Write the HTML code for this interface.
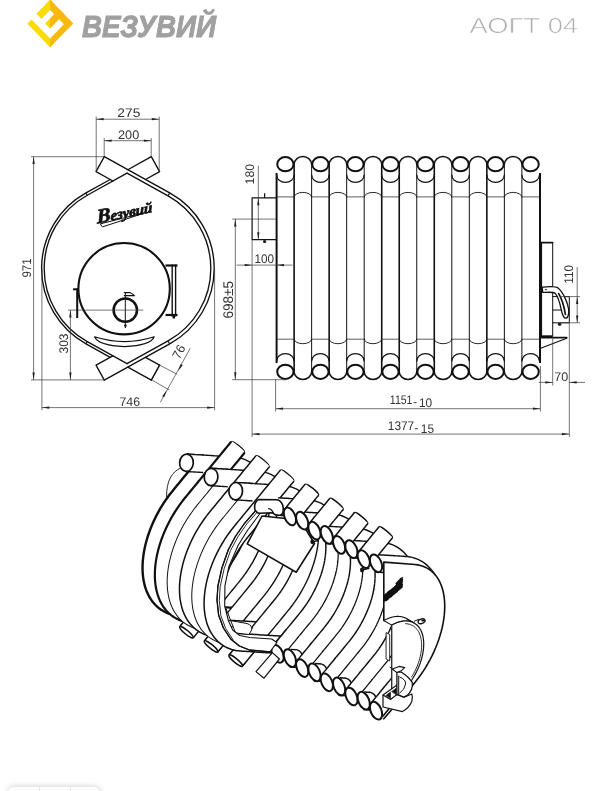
<!DOCTYPE html>
<html lang="ru">
<head>
<meta charset="utf-8">
<title>Везувий АОГТ 04</title>
<style>
html,body{margin:0;padding:0;background:#fff;}
body{width:607px;height:791px;overflow:hidden;position:relative;font-family:"Liberation Sans",sans-serif;}
svg{position:absolute;left:0;top:0;display:block;}
svg text{text-rendering:geometricPrecision;}
.gray{opacity:.999;}
.toolbar{position:absolute;left:8px;top:787px;width:92px;height:20px;border-radius:6px 6px 0 0;background:#fff;box-shadow:0 0 6px rgba(0,0,0,.22);}
.toolbar i{position:absolute;top:0;width:1px;height:20px;background:#e4e4e4;}
</style>
</head>
<body>
<svg width="607" height="791" viewBox="0 0 607 791">
<g class="gray">
<defs><linearGradient id="lg" gradientUnits="userSpaceOnUse" x1="0" y1="0" x2="100" y2="0"><stop offset="0.501" stop-color="#fbdb06"/><stop offset="0.501" stop-color="#f8b90c"/></linearGradient></defs>
<g fill="url(#lg)">
<path d="M50.10,-0.34 L73.15,23.40 L68.13,28.57 L45.08,4.83Z"/>
<path d="M50.10,-0.34 L55.12,4.83 L41.47,18.88 L36.45,13.71Z"/>
<path d="M59.12,8.94 L64.14,14.11 L50.06,28.61 L45.04,23.44Z"/>
<path d="M68.98,19.10 L73.15,23.40 L50.10,47.14 L45.93,42.85Z"/>
<path d="M27.47,23.84 L50.10,47.14 L54.27,42.85 L31.64,19.54Z"/>
</g>
<text x="82" y="36.5" font-family="Liberation Sans, sans-serif" font-weight="bold" font-style="italic" font-size="30.6" fill="#a0a0a0" stroke="#a0a0a0" stroke-width="0.9" textLength="134" lengthAdjust="spacingAndGlyphs">ВЕЗУВИЙ</text>
<text x="469.6" y="33.4" font-family="Liberation Sans, sans-serif" font-size="21.8" fill="#b0b0b0" stroke="#fff" stroke-width="0.55" textLength="108.5" lengthAdjust="spacingAndGlyphs">АОГТ 04</text>
<path d="M104.3,156.7 L169.69,192.89 A86.3,86.3 0 0 1 169.69,343.91 L104.3,380.1" fill="none" stroke="#111" stroke-width="1.35" stroke-linejoin="round" stroke-linecap="round" />
<path d="M127.01,173.16 L168.05,195.87 A82.9,82.9 0 0 1 168.05,340.93 L127.01,363.64" fill="none" stroke="#111" stroke-width="1.35" stroke-linejoin="round" stroke-linecap="round" />
<path d="M127.01,173.16 L87.27,195.22 A83.7,83.7 0 0 0 87.27,341.58 L127.01,363.64" fill="none" stroke="#111" stroke-width="1.35" stroke-linejoin="round" stroke-linecap="round" />
<path d="M104.3,156.7 L96.02,171.66 L112.89,181" fill="none" stroke="#111" stroke-width="1.35" stroke-linejoin="round" stroke-linecap="round" />
<path d="M104.3,380.1 L96.02,365.14 L112.89,355.8" fill="none" stroke="#111" stroke-width="1.35" stroke-linejoin="round" stroke-linecap="round" />
<path d="M110.21,179.51 L86.01,192.95 A86.3,86.3 0 0 0 86.01,343.85 L110.21,357.29" fill="none" stroke="#111" stroke-width="1.35" stroke-linejoin="round" stroke-linecap="round" />
<path d="M127.84,169.73 L151.3,156.7 L159.6,171.65 L145.48,179.49" fill="none" stroke="#111" stroke-width="1.35" stroke-linejoin="round" stroke-linecap="round" />
<path d="M127.84,367.07 L151.3,380.1" fill="none" stroke="#111" stroke-width="1.35" stroke-linejoin="round" stroke-linecap="round" />
<path d="M151.3,380.1 L159.6,365.15" fill="none" stroke="#111" stroke-width="1.5" stroke-linejoin="round" stroke-linecap="round" />
<path d="M159.6,365.15 L145.48,357.31" fill="none" stroke="#111" stroke-width="1.35" stroke-linejoin="round" stroke-linecap="round" />
<line x1="169.69" y1="192.89" x2="168.05" y2="195.87" stroke="#111" stroke-width="1.1" stroke-linecap="butt"/>
<line x1="169.69" y1="343.91" x2="168.05" y2="340.93" stroke="#111" stroke-width="1.1" stroke-linecap="butt"/>
<line x1="86.01" y1="192.95" x2="87.27" y2="195.22" stroke="#111" stroke-width="1.1" stroke-linecap="butt"/>
<line x1="86.01" y1="343.85" x2="87.27" y2="341.58" stroke="#111" stroke-width="1.1" stroke-linecap="butt"/>
<circle cx="124.1" cy="288.7" r="45.7" fill="none" stroke="#111" stroke-width="2.1"/>
<circle cx="125.3" cy="310.1" r="11.7" fill="none" stroke="#111" stroke-width="2.5"/>
<line x1="125.3" y1="292.5" x2="125.3" y2="328" stroke="#111" stroke-width="1" stroke-linecap="butt"/>
<path d="M125.3,327 l-1.2,-2 h2.4z" fill="#111" stroke="#111" stroke-width="0.5" stroke-linejoin="round" stroke-linecap="round" />
<line x1="68" y1="310.1" x2="143.2" y2="310.1" stroke="#3a3a3a" stroke-width="0.7" stroke-linecap="butt"/>
<path d="M124.3,292.6 H130.2 L134.6,295.6 H124.3" fill="none" stroke="#111" stroke-width="1.1" stroke-linejoin="round" stroke-linecap="round" />
<line x1="77.2" y1="288.4" x2="77.2" y2="318" stroke="#111" stroke-width="2" stroke-linecap="butt"/>
<line x1="73" y1="289.3" x2="78" y2="289.3" stroke="#111" stroke-width="2" stroke-linecap="butt"/>
<line x1="172.2" y1="264.5" x2="172.2" y2="316.5" stroke="#111" stroke-width="1.4" stroke-linecap="butt"/>
<line x1="175.6" y1="264.5" x2="175.6" y2="316.5" stroke="#111" stroke-width="1.4" stroke-linecap="butt"/>
<line x1="165.5" y1="265.5" x2="177.5" y2="265.5" stroke="#111" stroke-width="2.2" stroke-linecap="butt"/>
<line x1="165.5" y1="315" x2="177.5" y2="315" stroke="#111" stroke-width="2.2" stroke-linecap="butt"/>
<line x1="173.8" y1="315" x2="173.8" y2="318.5" stroke="#111" stroke-width="2.4" stroke-linecap="butt"/>
<path d="M94.6,336.8 Q124.5,346.5 154.2,336.8 Q151,345.5 124.5,346.6 Q98,345.5 94.6,336.8Z" fill="none" stroke="#111" stroke-width="1.2" stroke-linejoin="round" stroke-linecap="round" />
<line x1="96.2" y1="116.5" x2="96.2" y2="171.6" stroke="#3a3a3a" stroke-width="0.7" stroke-linecap="butt"/>
<line x1="159.2" y1="116.5" x2="159.2" y2="171.6" stroke="#3a3a3a" stroke-width="0.7" stroke-linecap="butt"/>
<line x1="96.2" y1="119.2" x2="159.2" y2="119.2" stroke="#3a3a3a" stroke-width="0.7" stroke-linecap="butt"/>
<polygon points="96.2,119.2 103.6,118.05 103.6,120.35" fill="#222"/>
<polygon points="159.2,119.2 151.8,120.35 151.8,118.05" fill="#222"/>
<text x="128.8" y="117.2" font-family="Liberation Sans, sans-serif" font-size="12.5" fill="#333" text-anchor="middle" textLength="23" lengthAdjust="spacingAndGlyphs" >275</text>
<line x1="104.2" y1="138" x2="104.2" y2="156.7" stroke="#3a3a3a" stroke-width="0.7" stroke-linecap="butt"/>
<line x1="151.2" y1="138" x2="151.2" y2="156.7" stroke="#3a3a3a" stroke-width="0.7" stroke-linecap="butt"/>
<line x1="104.2" y1="140.7" x2="151.2" y2="140.7" stroke="#3a3a3a" stroke-width="0.7" stroke-linecap="butt"/>
<polygon points="104.2,140.7 111.6,139.55 111.6,141.85" fill="#222"/>
<polygon points="151.2,140.7 143.8,141.85 143.8,139.55" fill="#222"/>
<text x="128.6" y="139" font-family="Liberation Sans, sans-serif" font-size="12.5" fill="#333" text-anchor="middle" textLength="21.2" lengthAdjust="spacingAndGlyphs" >200</text>
<line x1="31" y1="156.7" x2="104.3" y2="156.7" stroke="#3a3a3a" stroke-width="0.7" stroke-linecap="butt"/>
<line x1="31" y1="379.9" x2="105" y2="379.9" stroke="#3a3a3a" stroke-width="0.7" stroke-linecap="butt"/>
<line x1="33.6" y1="156.7" x2="33.6" y2="379.9" stroke="#3a3a3a" stroke-width="0.7" stroke-linecap="butt"/>
<polygon points="33.6,156.7 34.75,164.1 32.45,164.1" fill="#222"/>
<polygon points="33.6,379.9 32.45,372.5 34.75,372.5" fill="#222"/>
<text x="31" y="268" font-family="Liberation Sans, sans-serif" font-size="12.5" fill="#333" text-anchor="middle" transform="rotate(-90 31 268)" textLength="19.2" lengthAdjust="spacingAndGlyphs" >971</text>
<line x1="70.4" y1="310.1" x2="70.4" y2="379.9" stroke="#3a3a3a" stroke-width="0.7" stroke-linecap="butt"/>
<polygon points="70.4,310.1 71.55,317.5 69.25,317.5" fill="#222"/>
<polygon points="70.4,379.9 69.25,372.5 71.55,372.5" fill="#222"/>
<text x="68" y="343.5" font-family="Liberation Sans, sans-serif" font-size="12.5" fill="#333" text-anchor="middle" transform="rotate(-90 68 343.5)" textLength="20" lengthAdjust="spacingAndGlyphs" >303</text>
<line x1="41.9" y1="268" x2="41.9" y2="410.2" stroke="#3a3a3a" stroke-width="0.7" stroke-linecap="butt"/>
<line x1="214.6" y1="268" x2="214.6" y2="410.2" stroke="#3a3a3a" stroke-width="0.7" stroke-linecap="butt"/>
<line x1="41.9" y1="407.6" x2="214.6" y2="407.6" stroke="#3a3a3a" stroke-width="0.7" stroke-linecap="butt"/>
<polygon points="41.9,407.6 49.3,406.45 49.3,408.75" fill="#222"/>
<polygon points="214.6,407.6 207.2,408.75 207.2,406.45" fill="#222"/>
<text x="129.8" y="405.7" font-family="Liberation Sans, sans-serif" font-size="12.5" fill="#333" text-anchor="middle" textLength="20.6" lengthAdjust="spacingAndGlyphs" >746</text>
<line x1="159.2" y1="364.9" x2="177.2" y2="374.3" stroke="#3a3a3a" stroke-width="0.7" stroke-linecap="butt"/>
<line x1="151.8" y1="379.9" x2="169.2" y2="390" stroke="#3a3a3a" stroke-width="0.7" stroke-linecap="butt"/>
<line x1="190.3" y1="348.1" x2="160.3" y2="402.3" stroke="#3a3a3a" stroke-width="0.7" stroke-linecap="butt"/>
<polygon points="178.1,371.1 180.68,364.07 182.69,365.19" fill="#222"/>
<polygon points="166.8,390.3 164.22,397.33 162.21,396.21" fill="#222"/>
<text x="182.6" y="353.8" font-family="Liberation Sans, sans-serif" font-size="12.5" fill="#333" text-anchor="middle" transform="rotate(-61 182.6 353.8)" >76</text>
<text x="0" y="0" transform="translate(97.2 223.4) rotate(-11.5) skewX(-8)" font-family="Liberation Serif, serif" font-weight="bold" font-style="italic" font-size="14.5" fill="#111" stroke="#111" stroke-width="0.7" textLength="56.5" lengthAdjust="spacingAndGlyphs"><tspan font-size="20">В</tspan>езувий</text>
<path d="M100.6,223.8 Q122,218.4 146,212.4 Q124,220 102.8,226.8 Z" fill="none" stroke="#111" stroke-width="1" stroke-linejoin="round" stroke-linecap="round" />
<line x1="276.6" y1="173" x2="276.6" y2="363" stroke="#111" stroke-width="2" stroke-linecap="butt"/>
<line x1="294.12" y1="164.5" x2="294.12" y2="371.5" stroke="#111" stroke-width="1.6" stroke-linecap="butt"/>
<line x1="311.64" y1="164.5" x2="311.64" y2="371.5" stroke="#111" stroke-width="1" stroke-linecap="butt"/>
<line x1="329.16" y1="164.5" x2="329.16" y2="371.5" stroke="#111" stroke-width="1.6" stroke-linecap="butt"/>
<line x1="346.68" y1="164.5" x2="346.68" y2="371.5" stroke="#111" stroke-width="1" stroke-linecap="butt"/>
<line x1="364.2" y1="164.5" x2="364.2" y2="371.5" stroke="#111" stroke-width="1" stroke-linecap="butt"/>
<line x1="381.72" y1="164.5" x2="381.72" y2="371.5" stroke="#111" stroke-width="1.6" stroke-linecap="butt"/>
<line x1="399.24" y1="164.5" x2="399.24" y2="371.5" stroke="#111" stroke-width="1.6" stroke-linecap="butt"/>
<line x1="416.76" y1="164.5" x2="416.76" y2="371.5" stroke="#111" stroke-width="1" stroke-linecap="butt"/>
<line x1="434.28" y1="164.5" x2="434.28" y2="371.5" stroke="#111" stroke-width="1.6" stroke-linecap="butt"/>
<line x1="451.8" y1="164.5" x2="451.8" y2="371.5" stroke="#111" stroke-width="1" stroke-linecap="butt"/>
<line x1="469.32" y1="164.5" x2="469.32" y2="371.5" stroke="#111" stroke-width="1" stroke-linecap="butt"/>
<line x1="486.84" y1="164.5" x2="486.84" y2="371.5" stroke="#111" stroke-width="1.6" stroke-linecap="butt"/>
<line x1="504.36" y1="164.5" x2="504.36" y2="371.5" stroke="#111" stroke-width="1" stroke-linecap="butt"/>
<line x1="521.88" y1="164.5" x2="521.88" y2="371.5" stroke="#111" stroke-width="1" stroke-linecap="butt"/>
<line x1="540" y1="173" x2="540" y2="363" stroke="#111" stroke-width="2" stroke-linecap="butt"/>
<ellipse cx="285.36" cy="164.2" rx="8.16" ry="7.1" fill="#fff" stroke="#111" stroke-width="2.0"/>
<ellipse cx="285.36" cy="371.8" rx="8.16" ry="7.1" fill="#fff" stroke="#111" stroke-width="2.0"/>
<path d="M276.6,175 A8.76,7.4 0 0 0 294.12,175" fill="none" stroke="#111" stroke-width="1.2" stroke-linejoin="round" stroke-linecap="round" />
<path d="M276.6,361 A8.76,7.4 0 0 1 294.12,361" fill="none" stroke="#111" stroke-width="1.2" stroke-linejoin="round" stroke-linecap="round" />
<line x1="276.6" y1="196.9" x2="294.12" y2="196.9" stroke="#333" stroke-width="0.8" stroke-linecap="butt"/>
<line x1="276.6" y1="339.2" x2="294.12" y2="339.2" stroke="#333" stroke-width="0.8" stroke-linecap="butt"/>
<path d="M294.12,164.5 A8.76,8 0 0 1 311.64,164.5" fill="none" stroke="#111" stroke-width="1.45" stroke-linejoin="round" stroke-linecap="round" />
<path d="M294.12,371.5 A8.76,8 0 0 0 311.64,371.5" fill="none" stroke="#111" stroke-width="1.45" stroke-linejoin="round" stroke-linecap="round" />
<path d="M294.12,196.9 A8.76,4.5 0 0 1 311.64,196.9" fill="none" stroke="#111" stroke-width="0.9" stroke-linejoin="round" stroke-linecap="round" />
<path d="M294.12,339.2 A8.76,4.5 0 0 0 311.64,339.2" fill="none" stroke="#111" stroke-width="0.9" stroke-linejoin="round" stroke-linecap="round" />
<ellipse cx="320.4" cy="164.2" rx="8.16" ry="7.1" fill="#fff" stroke="#111" stroke-width="2.0"/>
<ellipse cx="320.4" cy="371.8" rx="8.16" ry="7.1" fill="#fff" stroke="#111" stroke-width="2.0"/>
<path d="M311.64,175 A8.76,7.4 0 0 0 329.16,175" fill="none" stroke="#111" stroke-width="1.2" stroke-linejoin="round" stroke-linecap="round" />
<path d="M311.64,361 A8.76,7.4 0 0 1 329.16,361" fill="none" stroke="#111" stroke-width="1.2" stroke-linejoin="round" stroke-linecap="round" />
<line x1="311.64" y1="196.9" x2="329.16" y2="196.9" stroke="#333" stroke-width="0.8" stroke-linecap="butt"/>
<line x1="311.64" y1="339.2" x2="329.16" y2="339.2" stroke="#333" stroke-width="0.8" stroke-linecap="butt"/>
<path d="M329.16,164.5 A8.76,8 0 0 1 346.68,164.5" fill="none" stroke="#111" stroke-width="1.45" stroke-linejoin="round" stroke-linecap="round" />
<path d="M329.16,371.5 A8.76,8 0 0 0 346.68,371.5" fill="none" stroke="#111" stroke-width="1.45" stroke-linejoin="round" stroke-linecap="round" />
<path d="M329.16,196.9 A8.76,4.5 0 0 1 346.68,196.9" fill="none" stroke="#111" stroke-width="0.9" stroke-linejoin="round" stroke-linecap="round" />
<path d="M329.16,339.2 A8.76,4.5 0 0 0 346.68,339.2" fill="none" stroke="#111" stroke-width="0.9" stroke-linejoin="round" stroke-linecap="round" />
<ellipse cx="355.44" cy="164.2" rx="8.16" ry="7.1" fill="#fff" stroke="#111" stroke-width="2.0"/>
<ellipse cx="355.44" cy="371.8" rx="8.16" ry="7.1" fill="#fff" stroke="#111" stroke-width="2.0"/>
<path d="M346.68,175 A8.76,7.4 0 0 0 364.2,175" fill="none" stroke="#111" stroke-width="1.2" stroke-linejoin="round" stroke-linecap="round" />
<path d="M346.68,361 A8.76,7.4 0 0 1 364.2,361" fill="none" stroke="#111" stroke-width="1.2" stroke-linejoin="round" stroke-linecap="round" />
<line x1="346.68" y1="196.9" x2="364.2" y2="196.9" stroke="#333" stroke-width="0.8" stroke-linecap="butt"/>
<line x1="346.68" y1="339.2" x2="364.2" y2="339.2" stroke="#333" stroke-width="0.8" stroke-linecap="butt"/>
<path d="M364.2,164.5 A8.76,8 0 0 1 381.72,164.5" fill="none" stroke="#111" stroke-width="1.45" stroke-linejoin="round" stroke-linecap="round" />
<path d="M364.2,371.5 A8.76,8 0 0 0 381.72,371.5" fill="none" stroke="#111" stroke-width="1.45" stroke-linejoin="round" stroke-linecap="round" />
<path d="M364.2,196.9 A8.76,4.5 0 0 1 381.72,196.9" fill="none" stroke="#111" stroke-width="0.9" stroke-linejoin="round" stroke-linecap="round" />
<path d="M364.2,339.2 A8.76,4.5 0 0 0 381.72,339.2" fill="none" stroke="#111" stroke-width="0.9" stroke-linejoin="round" stroke-linecap="round" />
<ellipse cx="390.48" cy="164.2" rx="8.16" ry="7.1" fill="#fff" stroke="#111" stroke-width="2.0"/>
<ellipse cx="390.48" cy="371.8" rx="8.16" ry="7.1" fill="#fff" stroke="#111" stroke-width="2.0"/>
<path d="M381.72,175 A8.76,7.4 0 0 0 399.24,175" fill="none" stroke="#111" stroke-width="1.2" stroke-linejoin="round" stroke-linecap="round" />
<path d="M381.72,361 A8.76,7.4 0 0 1 399.24,361" fill="none" stroke="#111" stroke-width="1.2" stroke-linejoin="round" stroke-linecap="round" />
<line x1="381.72" y1="196.9" x2="399.24" y2="196.9" stroke="#333" stroke-width="0.8" stroke-linecap="butt"/>
<line x1="381.72" y1="339.2" x2="399.24" y2="339.2" stroke="#333" stroke-width="0.8" stroke-linecap="butt"/>
<path d="M399.24,164.5 A8.76,8 0 0 1 416.76,164.5" fill="none" stroke="#111" stroke-width="1.45" stroke-linejoin="round" stroke-linecap="round" />
<path d="M399.24,371.5 A8.76,8 0 0 0 416.76,371.5" fill="none" stroke="#111" stroke-width="1.45" stroke-linejoin="round" stroke-linecap="round" />
<path d="M399.24,196.9 A8.76,4.5 0 0 1 416.76,196.9" fill="none" stroke="#111" stroke-width="0.9" stroke-linejoin="round" stroke-linecap="round" />
<path d="M399.24,339.2 A8.76,4.5 0 0 0 416.76,339.2" fill="none" stroke="#111" stroke-width="0.9" stroke-linejoin="round" stroke-linecap="round" />
<ellipse cx="425.52" cy="164.2" rx="8.16" ry="7.1" fill="#fff" stroke="#111" stroke-width="2.0"/>
<ellipse cx="425.52" cy="371.8" rx="8.16" ry="7.1" fill="#fff" stroke="#111" stroke-width="2.0"/>
<path d="M416.76,175 A8.76,7.4 0 0 0 434.28,175" fill="none" stroke="#111" stroke-width="1.2" stroke-linejoin="round" stroke-linecap="round" />
<path d="M416.76,361 A8.76,7.4 0 0 1 434.28,361" fill="none" stroke="#111" stroke-width="1.2" stroke-linejoin="round" stroke-linecap="round" />
<line x1="416.76" y1="196.9" x2="434.28" y2="196.9" stroke="#333" stroke-width="0.8" stroke-linecap="butt"/>
<line x1="416.76" y1="339.2" x2="434.28" y2="339.2" stroke="#333" stroke-width="0.8" stroke-linecap="butt"/>
<path d="M434.28,164.5 A8.76,8 0 0 1 451.8,164.5" fill="none" stroke="#111" stroke-width="1.45" stroke-linejoin="round" stroke-linecap="round" />
<path d="M434.28,371.5 A8.76,8 0 0 0 451.8,371.5" fill="none" stroke="#111" stroke-width="1.45" stroke-linejoin="round" stroke-linecap="round" />
<path d="M434.28,196.9 A8.76,4.5 0 0 1 451.8,196.9" fill="none" stroke="#111" stroke-width="0.9" stroke-linejoin="round" stroke-linecap="round" />
<path d="M434.28,339.2 A8.76,4.5 0 0 0 451.8,339.2" fill="none" stroke="#111" stroke-width="0.9" stroke-linejoin="round" stroke-linecap="round" />
<ellipse cx="460.56" cy="164.2" rx="8.16" ry="7.1" fill="#fff" stroke="#111" stroke-width="2.0"/>
<ellipse cx="460.56" cy="371.8" rx="8.16" ry="7.1" fill="#fff" stroke="#111" stroke-width="2.0"/>
<path d="M451.8,175 A8.76,7.4 0 0 0 469.32,175" fill="none" stroke="#111" stroke-width="1.2" stroke-linejoin="round" stroke-linecap="round" />
<path d="M451.8,361 A8.76,7.4 0 0 1 469.32,361" fill="none" stroke="#111" stroke-width="1.2" stroke-linejoin="round" stroke-linecap="round" />
<line x1="451.8" y1="196.9" x2="469.32" y2="196.9" stroke="#333" stroke-width="0.8" stroke-linecap="butt"/>
<line x1="451.8" y1="339.2" x2="469.32" y2="339.2" stroke="#333" stroke-width="0.8" stroke-linecap="butt"/>
<path d="M469.32,164.5 A8.76,8 0 0 1 486.84,164.5" fill="none" stroke="#111" stroke-width="1.45" stroke-linejoin="round" stroke-linecap="round" />
<path d="M469.32,371.5 A8.76,8 0 0 0 486.84,371.5" fill="none" stroke="#111" stroke-width="1.45" stroke-linejoin="round" stroke-linecap="round" />
<path d="M469.32,196.9 A8.76,4.5 0 0 1 486.84,196.9" fill="none" stroke="#111" stroke-width="0.9" stroke-linejoin="round" stroke-linecap="round" />
<path d="M469.32,339.2 A8.76,4.5 0 0 0 486.84,339.2" fill="none" stroke="#111" stroke-width="0.9" stroke-linejoin="round" stroke-linecap="round" />
<ellipse cx="495.6" cy="164.2" rx="8.16" ry="7.1" fill="#fff" stroke="#111" stroke-width="2.0"/>
<ellipse cx="495.6" cy="371.8" rx="8.16" ry="7.1" fill="#fff" stroke="#111" stroke-width="2.0"/>
<path d="M486.84,175 A8.76,7.4 0 0 0 504.36,175" fill="none" stroke="#111" stroke-width="1.2" stroke-linejoin="round" stroke-linecap="round" />
<path d="M486.84,361 A8.76,7.4 0 0 1 504.36,361" fill="none" stroke="#111" stroke-width="1.2" stroke-linejoin="round" stroke-linecap="round" />
<line x1="486.84" y1="196.9" x2="504.36" y2="196.9" stroke="#333" stroke-width="0.8" stroke-linecap="butt"/>
<line x1="486.84" y1="339.2" x2="504.36" y2="339.2" stroke="#333" stroke-width="0.8" stroke-linecap="butt"/>
<path d="M504.36,164.5 A8.76,8 0 0 1 521.88,164.5" fill="none" stroke="#111" stroke-width="1.45" stroke-linejoin="round" stroke-linecap="round" />
<path d="M504.36,371.5 A8.76,8 0 0 0 521.88,371.5" fill="none" stroke="#111" stroke-width="1.45" stroke-linejoin="round" stroke-linecap="round" />
<path d="M504.36,196.9 A8.76,4.5 0 0 1 521.88,196.9" fill="none" stroke="#111" stroke-width="0.9" stroke-linejoin="round" stroke-linecap="round" />
<path d="M504.36,339.2 A8.76,4.5 0 0 0 521.88,339.2" fill="none" stroke="#111" stroke-width="0.9" stroke-linejoin="round" stroke-linecap="round" />
<ellipse cx="530.64" cy="164.2" rx="8.16" ry="7.1" fill="#fff" stroke="#111" stroke-width="2.0"/>
<ellipse cx="530.64" cy="371.8" rx="8.16" ry="7.1" fill="#fff" stroke="#111" stroke-width="2.0"/>
<path d="M521.88,175 A8.76,7.4 0 0 0 539.4,175" fill="none" stroke="#111" stroke-width="1.2" stroke-linejoin="round" stroke-linecap="round" />
<path d="M521.88,361 A8.76,7.4 0 0 1 539.4,361" fill="none" stroke="#111" stroke-width="1.2" stroke-linejoin="round" stroke-linecap="round" />
<line x1="521.88" y1="196.9" x2="539.4" y2="196.9" stroke="#333" stroke-width="0.8" stroke-linecap="butt"/>
<line x1="521.88" y1="339.2" x2="539.4" y2="339.2" stroke="#333" stroke-width="0.8" stroke-linecap="butt"/>
<path d="M276,197.9 L252.1,197.9 L252.1,239.6 L276,239.6" fill="none" stroke="#111" stroke-width="1.2" stroke-linejoin="round" stroke-linecap="round" />
<line x1="264.6" y1="193.2" x2="264.6" y2="197.9" stroke="#111" stroke-width="1.2" stroke-linecap="butt"/>
<ellipse cx="264.6" cy="241.6" rx="1.6" ry="1.5" fill="#111"/>
<line x1="540.6" y1="242.4" x2="540.6" y2="337" stroke="#111" stroke-width="3" stroke-linecap="butt"/>
<path d="M540,242.6 L552.7,242.6" fill="none" stroke="#111" stroke-width="1.6" stroke-linejoin="round" stroke-linecap="round" />
<line x1="552.7" y1="242.6" x2="552.7" y2="336.5" stroke="#111" stroke-width="1" stroke-linecap="butt"/>
<line x1="540" y1="336.2" x2="552.7" y2="336.2" stroke="#111" stroke-width="1.8" stroke-linecap="butt"/>
<path d="M540,337.6 L566.8,337.6" fill="none" stroke="#111" stroke-width="1.6" stroke-linejoin="round" stroke-linecap="round" />
<path d="M566.8,338.2 L540,348.6" fill="none" stroke="#111" stroke-width="1.1" stroke-linejoin="round" stroke-linecap="round" />
<path d="M552.7,296.6 L569.3,296.6 L569.3,322.8 L552.7,322.8" fill="none" stroke="#111" stroke-width="1" stroke-linejoin="round" stroke-linecap="round" />
<line x1="552.7" y1="310" x2="561" y2="310" stroke="#111" stroke-width="1" stroke-linecap="butt"/>
<ellipse cx="559.6" cy="324.3" rx="1.7" ry="1.5" fill="#111"/>
<path d="M542.3,287.2 C550,286.6 555,285.6 558,288 C563,292 567.5,302 568.6,309 C569.2,314 568,318.2 565.6,318.2 C563.6,318.2 562.4,315 561.2,309.5 C559.8,302.5 557.8,296.5 555,293.2 C552.5,291.6 547,292.4 542.6,292.4 Z" fill="#fff" stroke="#111" stroke-width="1.3" stroke-linejoin="round" stroke-linecap="round" />
<path d="M558.6,293.5 C562,299 564.2,307 565.4,314.5" fill="none" stroke="#111" stroke-width="1.6" stroke-linejoin="round" stroke-linecap="round" />
<circle cx="546" cy="289.6" r="0.8" fill="#111"/>
<line x1="258.3" y1="165.7" x2="258.3" y2="239.6" stroke="#3a3a3a" stroke-width="0.7" stroke-linecap="butt"/>
<polygon points="258.3,197.9 259.45,205.3 257.15,205.3" fill="#222"/>
<polygon points="258.3,239.6 257.15,232.2 259.45,232.2" fill="#222"/>
<text x="254.2" y="174.2" font-family="Liberation Sans, sans-serif" font-size="12.5" fill="#333" text-anchor="middle" transform="rotate(-90 254.2 174.2)" textLength="20.4" lengthAdjust="spacingAndGlyphs" >180</text>
<line x1="232.2" y1="219.1" x2="276" y2="219.1" stroke="#3a3a3a" stroke-width="0.7" stroke-linecap="butt"/>
<line x1="232.2" y1="379.7" x2="286" y2="379.7" stroke="#3a3a3a" stroke-width="0.7" stroke-linecap="butt"/>
<line x1="235.3" y1="219.1" x2="235.3" y2="379.7" stroke="#3a3a3a" stroke-width="0.7" stroke-linecap="butt"/>
<polygon points="235.3,219.1 236.45,226.5 234.15,226.5" fill="#222"/>
<polygon points="235.3,379.7 234.15,372.3 236.45,372.3" fill="#222"/>
<text x="233.3" y="299.7" font-family="Liberation Sans, sans-serif" font-size="14" fill="#333" text-anchor="middle" transform="rotate(-90 233.3 299.7)" textLength="37.5" lengthAdjust="spacingAndGlyphs" >698±5</text>
<line x1="252.1" y1="239.6" x2="252.1" y2="437" stroke="#3a3a3a" stroke-width="0.7" stroke-linecap="butt"/>
<line x1="236.5" y1="265.1" x2="292.5" y2="265.1" stroke="#3a3a3a" stroke-width="0.7" stroke-linecap="butt"/>
<polygon points="252.1,265.1 244.7,266.25 244.7,263.95" fill="#222"/>
<polygon points="276.6,265.1 284,263.95 284,266.25" fill="#222"/>
<text x="264.3" y="263.4" font-family="Liberation Sans, sans-serif" font-size="12.5" fill="#333" text-anchor="middle" textLength="19.6" lengthAdjust="spacingAndGlyphs" >100</text>
<line x1="275.6" y1="379" x2="275.6" y2="411.5" stroke="#3a3a3a" stroke-width="0.7" stroke-linecap="butt"/>
<line x1="540.4" y1="366" x2="540.4" y2="411.5" stroke="#3a3a3a" stroke-width="0.7" stroke-linecap="butt"/>
<line x1="275.6" y1="408.7" x2="540.4" y2="408.7" stroke="#3a3a3a" stroke-width="0.7" stroke-linecap="butt"/>
<polygon points="275.6,408.7 283,407.55 283,409.85" fill="#222"/>
<polygon points="540.4,408.7 533,409.85 533,407.55" fill="#222"/>
<text x="389.8" y="403.5" font-family="Liberation Sans, sans-serif" font-size="12.5" fill="#333" text-anchor="start" textLength="22.7" lengthAdjust="spacingAndGlyphs" >1151</text>
<text x="413" y="405.6" font-family="Liberation Sans, sans-serif" font-size="12.5" fill="#333" text-anchor="start" >-</text>
<text x="418.9" y="407.2" font-family="Liberation Sans, sans-serif" font-size="12.5" fill="#333" text-anchor="start" textLength="13.2" lengthAdjust="spacingAndGlyphs" >10</text>
<line x1="252.1" y1="434.1" x2="569.3" y2="434.1" stroke="#3a3a3a" stroke-width="0.7" stroke-linecap="butt"/>
<polygon points="252.1,434.1 259.5,432.95 259.5,435.25" fill="#222"/>
<polygon points="569.3,434.1 561.9,435.25 561.9,432.95" fill="#222"/>
<text x="387.8" y="429.8" font-family="Liberation Sans, sans-serif" font-size="12.5" fill="#333" text-anchor="start" textLength="26.4" lengthAdjust="spacingAndGlyphs" >1377</text>
<text x="414.3" y="431.6" font-family="Liberation Sans, sans-serif" font-size="12.5" fill="#333" text-anchor="start" >-</text>
<text x="420.8" y="433.1" font-family="Liberation Sans, sans-serif" font-size="12.5" fill="#333" text-anchor="start" textLength="13.2" lengthAdjust="spacingAndGlyphs" >15</text>
<line x1="552.7" y1="336.5" x2="552.7" y2="385.5" stroke="#3a3a3a" stroke-width="0.7" stroke-linecap="butt"/>
<line x1="569.3" y1="322.8" x2="569.3" y2="437" stroke="#3a3a3a" stroke-width="0.7" stroke-linecap="butt"/>
<line x1="538.8" y1="382.4" x2="552.7" y2="382.4" stroke="#3a3a3a" stroke-width="0.7" stroke-linecap="butt"/>
<line x1="569.3" y1="382.4" x2="585" y2="382.4" stroke="#3a3a3a" stroke-width="0.7" stroke-linecap="butt"/>
<polygon points="552.7,382.4 545.3,383.55 545.3,381.25" fill="#222"/>
<polygon points="569.3,382.4 576.7,381.25 576.7,383.55" fill="#222"/>
<text x="561.3" y="380.5" font-family="Liberation Sans, sans-serif" font-size="12.5" fill="#333" text-anchor="middle" >70</text>
<line x1="560" y1="296.6" x2="580" y2="296.6" stroke="#3a3a3a" stroke-width="0.7" stroke-linecap="butt"/>
<line x1="560" y1="322.8" x2="580" y2="322.8" stroke="#3a3a3a" stroke-width="0.7" stroke-linecap="butt"/>
<line x1="577.2" y1="267" x2="577.2" y2="322.8" stroke="#3a3a3a" stroke-width="0.7" stroke-linecap="butt"/>
<polygon points="577.2,296.6 578.35,304 576.05,304" fill="#222"/>
<polygon points="577.2,322.8 576.05,315.4 578.35,315.4" fill="#222"/>
<text x="573.2" y="274.4" font-family="Liberation Sans, sans-serif" font-size="12.5" fill="#333" text-anchor="middle" transform="rotate(-90 573.2 274.4)" textLength="18.6" lengthAdjust="spacingAndGlyphs" >110</text>
<path d="M180,468.3 C172,472 166.2,481 166.6,497" fill="none" stroke="#111" stroke-width="0.9" stroke-linejoin="round" stroke-linecap="round" />
<path d="M186.46,462.76 L188.65,462.89 L190.84,463.03 L193.03,463.16 L195.23,463.3 L197.42,463.44 L199.61,463.57 L201.8,463.71 L204,463.84 L206.19,463.98 L208.38,464.11 L210.57,464.25 L212.77,464.38 L214.96,464.52 L217.15,464.65 L219.34,464.79 L221.54,464.93 L223.73,465.06 L225.92,465.2 L228.11,465.33 L230.31,465.47 L232.5,465.6 L234.6,465.8 L236.64,466.14 L238.62,466.62 L240.54,467.24 L242.39,467.99 L244.17,468.87 L245.87,469.89 L247.5,471.04 L249.04,472.31 L250.5,473.72 L251.87,475.24 L253.15,476.89 L254.34,478.65 L255.43,480.53 L256.42,482.51 L257.32,484.6 L258.11,486.8 L258.8,489.09 L259.39,491.47 L259.87,493.94 L260.25,496.5 L260.52,499.13 L260.68,501.84 L260.73,504.61 L260.68,507.44 L260.52,510.34 L260.25,513.28 L259.87,516.27 L259.39,519.3 L258.8,522.36 L258.11,525.45 L257.32,528.56 L256.42,531.68 L255.43,534.82 L254.34,537.95 L253.15,541.09 L251.87,544.21 L250.5,547.32 L249.04,550.41 L247.5,553.46 L245.87,556.49 L244.17,559.47 L242.39,562.41 L240.54,565.3 L238.62,568.13 L236.64,570.89 L234.6,573.59 L232.5,576.22 L230.31,578.88 L228.11,581.55 L225.92,584.22 L223.73,586.89 L221.54,589.55 L219.34,592.22 L217.15,594.89 L214.96,597.55 L212.77,600.22 L210.57,602.89 L208.38,605.56 L206.19,608.22 L204,610.89 L201.8,613.56 L199.61,616.22 L197.42,618.89 L195.23,621.56 L193.03,624.23 L190.84,626.89 L188.65,629.56 L186.46,632.23" fill="none" stroke="#111" stroke-width="18.81" stroke-linejoin="round"/>
<path d="M185.66,462.71 L188.65,462.89 L190.84,463.03 L193.03,463.16 L195.23,463.3 L197.42,463.44 L199.61,463.57 L201.8,463.71 L204,463.84 L206.19,463.98 L208.38,464.11 L210.57,464.25 L212.77,464.38 L214.96,464.52 L217.15,464.65 L219.34,464.79 L221.54,464.93 L223.73,465.06 L225.92,465.2 L228.11,465.33 L230.31,465.47 L232.5,465.6 L234.6,465.8 L236.64,466.14 L238.62,466.62 L240.54,467.24 L242.39,467.99 L244.17,468.87 L245.87,469.89 L247.5,471.04 L249.04,472.31 L250.5,473.72 L251.87,475.24 L253.15,476.89 L254.34,478.65 L255.43,480.53 L256.42,482.51 L257.32,484.6 L258.11,486.8 L258.8,489.09 L259.39,491.47 L259.87,493.94 L260.25,496.5 L260.52,499.13 L260.68,501.84 L260.73,504.61 L260.68,507.44 L260.52,510.34 L260.25,513.28 L259.87,516.27 L259.39,519.3 L258.8,522.36 L258.11,525.45 L257.32,528.56 L256.42,531.68 L255.43,534.82 L254.34,537.95 L253.15,541.09 L251.87,544.21 L250.5,547.32 L249.04,550.41 L247.5,553.46 L245.87,556.49 L244.17,559.47 L242.39,562.41 L240.54,565.3 L238.62,568.13 L236.64,570.89 L234.6,573.59 L232.5,576.22 L230.31,578.88 L228.11,581.55 L225.92,584.22 L223.73,586.89 L221.54,589.55 L219.34,592.22 L217.15,594.89 L214.96,597.55 L212.77,600.22 L210.57,602.89 L208.38,605.56 L206.19,608.22 L204,610.89 L201.8,613.56 L199.61,616.22 L197.42,618.89 L195.23,621.56 L193.03,624.23 L190.84,626.89 L188.65,629.56 L185.95,632.85" fill="none" stroke="#fff" stroke-width="16.01" stroke-linejoin="round"/>
<path d="M203.4,467.12 L201.4,469.54 L199.21,472.21 L197.02,474.88 L194.83,477.54 L192.63,480.21 L190.44,482.88 L188.25,485.55 L186.06,488.21 L183.86,490.88 L181.67,493.55 L179.48,496.21 L177.38,498.84 L175.34,501.54 L173.35,504.3 L171.43,507.13 L169.58,510.02 L167.81,512.96 L166.1,515.94 L164.48,518.97 L162.94,522.03 L161.48,525.11 L160.11,528.22 L158.83,531.34 L157.64,534.48 L156.55,537.61 L155.55,540.75 L154.66,543.87 L153.86,546.98 L153.17,550.07 L152.59,553.13 L152.1,556.16 L151.73,559.15 L151.46,562.09 L151.3,564.99 L151.24,567.82 L151.3,570.6 L151.46,573.3 L151.73,575.94 L152.1,578.49 L152.59,580.96 L153.17,583.35 L153.86,585.64 L154.66,587.83 L155.55,589.92 L156.55,591.91 L157.64,593.78 L158.83,595.55 L160.11,597.19 L161.48,598.72 L162.94,600.12 L164.48,601.4 L166.1,602.54 L167.81,603.56 L169.58,604.45 L171.43,605.2 L173.35,605.81 L175.34,606.29 L177.38,606.63 L179.48,606.83 L181.67,606.97 L183.86,607.1 L186.06,607.24 L188.25,607.37 L190.44,607.51 L192.63,607.64 L194.83,607.78 L197.02,607.91 L199.21,608.05 L201.4,608.18 L203.4,608.31" fill="none" stroke="#111" stroke-width="19.81" stroke-linejoin="round"/>
<path d="M203.91,466.5 L201.4,469.54 L199.21,472.21 L197.02,474.88 L194.83,477.54 L192.63,480.21 L190.44,482.88 L188.25,485.55 L186.06,488.21 L183.86,490.88 L181.67,493.55 L179.48,496.21 L177.38,498.84 L175.34,501.54 L173.35,504.3 L171.43,507.13 L169.58,510.02 L167.81,512.96 L166.1,515.94 L164.48,518.97 L162.94,522.03 L161.48,525.11 L160.11,528.22 L158.83,531.34 L157.64,534.48 L156.55,537.61 L155.55,540.75 L154.66,543.87 L153.86,546.98 L153.17,550.07 L152.59,553.13 L152.1,556.16 L151.73,559.15 L151.46,562.09 L151.3,564.99 L151.24,567.82 L151.3,570.6 L151.46,573.3 L151.73,575.94 L152.1,578.49 L152.59,580.96 L153.17,583.35 L153.86,585.64 L154.66,587.83 L155.55,589.92 L156.55,591.91 L157.64,593.78 L158.83,595.55 L160.11,597.19 L161.48,598.72 L162.94,600.12 L164.48,601.4 L166.1,602.54 L167.81,603.56 L169.58,604.45 L171.43,605.2 L173.35,605.81 L175.34,606.29 L177.38,606.63 L179.48,606.83 L181.67,606.97 L183.86,607.1 L186.06,607.24 L188.25,607.37 L190.44,607.51 L192.63,607.64 L194.83,607.78 L197.02,607.91 L199.21,608.05 L201.4,608.18 L204.2,608.36" fill="none" stroke="#fff" stroke-width="15.01" stroke-linejoin="round"/>
<path d="M186.46,462.76 L188.65,462.89 L190.84,463.03 L193.03,463.16 L195.23,463.3 L197.42,463.44 L199.61,463.57 L201.8,463.71 L203.72,463.82" fill="none" stroke="#111" stroke-width="18.81" stroke-linejoin="round"/>
<path d="M185.66,462.71 L188.65,462.89 L190.84,463.03 L193.03,463.16 L195.23,463.3 L197.42,463.44 L199.61,463.57 L201.8,463.71 L204.52,463.87" fill="none" stroke="#fff" stroke-width="16.01" stroke-linejoin="round"/>
<path d="M203.72,611.23 L201.8,613.56 L199.61,616.22 L197.42,618.89 L195.23,621.56 L193.03,624.23 L190.84,626.89 L188.65,629.56 L186.46,632.23" fill="none" stroke="#111" stroke-width="18.81" stroke-linejoin="round"/>
<path d="M204.23,610.61 L201.8,613.56 L199.61,616.22 L197.42,618.89 L195.23,621.56 L193.03,624.23 L190.84,626.89 L188.65,629.56 L185.95,632.85" fill="none" stroke="#fff" stroke-width="16.01" stroke-linejoin="round"/>
<ellipse cx="186.46" cy="462.76" rx="8.7" ry="6.83" transform="rotate(93.53 186.46 462.76)" fill="#fff" stroke="#111" stroke-width="1.7"/>
<ellipse cx="186.46" cy="632.23" rx="8.7" ry="1.96" transform="rotate(-140.58 186.46 632.23)" fill="#fff" stroke="#111" stroke-width="1.5"/>
<ellipse cx="237.83" cy="447.31" rx="8.7" ry="1.96" transform="rotate(-140.58 237.83 447.31)" fill="#fff" stroke="#111" stroke-width="1.2"/>
<ellipse cx="237.83" cy="616.78" rx="8.7" ry="6.83" transform="rotate(93.53 237.83 616.78)" fill="#fff" stroke="#111" stroke-width="1.2"/>
<path d="M237.83,447.31 L235.64,449.98 L233.44,452.64 L231.25,455.31 L229.06,457.98 L226.87,460.65 L224.67,463.31 L222.48,465.98 L220.29,468.65 L218.1,471.31 L215.9,473.98 L213.71,476.65 L211.52,479.32 L209.33,481.98 L207.13,484.65 L204.94,487.32 L202.75,489.98 L200.56,492.65 L198.36,495.32 L196.17,497.99 L193.98,500.65 L191.79,503.32 L189.69,505.95 L187.64,508.64 L185.66,511.41 L183.74,514.24 L181.89,517.13 L180.11,520.07 L178.41,523.05 L176.79,526.07 L175.24,529.13 L173.79,532.22 L172.42,535.33 L171.14,538.45 L169.95,541.58 L168.86,544.72 L167.86,547.85 L166.97,550.98 L166.17,554.09 L165.48,557.18 L164.89,560.24 L164.41,563.27 L164.04,566.26 L163.77,569.2 L163.61,572.09 L163.55,574.93 L163.61,577.7 L163.77,580.41 L164.04,583.04 L164.41,585.6 L164.89,588.07 L165.48,590.45 L166.17,592.74 L166.97,594.94 L167.86,597.03 L168.86,599.01 L169.95,600.89 L171.14,602.65 L172.42,604.3 L173.79,605.82 L175.24,607.23 L176.79,608.5 L178.41,609.65 L180.11,610.67 L181.89,611.55 L183.74,612.3 L185.66,612.92 L187.64,613.4 L189.69,613.73 L191.79,613.94 L193.98,614.07 L196.17,614.21 L198.36,614.34 L200.56,614.48 L202.75,614.61 L204.94,614.75 L207.13,614.88 L209.33,615.02 L211.52,615.15 L213.71,615.29 L215.9,615.43 L218.1,615.56 L220.29,615.7 L222.48,615.83 L224.67,615.97 L226.87,616.1 L229.06,616.24 L231.25,616.37 L233.44,616.51 L235.64,616.64 L237.83,616.78" fill="none" stroke="#111" stroke-width="19.61" stroke-linejoin="round"/>
<path d="M238.34,446.69 L235.64,449.98 L233.44,452.64 L231.25,455.31 L229.06,457.98 L226.87,460.65 L224.67,463.31 L222.48,465.98 L220.29,468.65 L218.1,471.31 L215.9,473.98 L213.71,476.65 L211.52,479.32 L209.33,481.98 L207.13,484.65 L204.94,487.32 L202.75,489.98 L200.56,492.65 L198.36,495.32 L196.17,497.99 L193.98,500.65 L191.79,503.32 L189.69,505.95 L187.64,508.64 L185.66,511.41 L183.74,514.24 L181.89,517.13 L180.11,520.07 L178.41,523.05 L176.79,526.07 L175.24,529.13 L173.79,532.22 L172.42,535.33 L171.14,538.45 L169.95,541.58 L168.86,544.72 L167.86,547.85 L166.97,550.98 L166.17,554.09 L165.48,557.18 L164.89,560.24 L164.41,563.27 L164.04,566.26 L163.77,569.2 L163.61,572.09 L163.55,574.93 L163.61,577.7 L163.77,580.41 L164.04,583.04 L164.41,585.6 L164.89,588.07 L165.48,590.45 L166.17,592.74 L166.97,594.94 L167.86,597.03 L168.86,599.01 L169.95,600.89 L171.14,602.65 L172.42,604.3 L173.79,605.82 L175.24,607.23 L176.79,608.5 L178.41,609.65 L180.11,610.67 L181.89,611.55 L183.74,612.3 L185.66,612.92 L187.64,613.4 L189.69,613.73 L191.79,613.94 L193.98,614.07 L196.17,614.21 L198.36,614.34 L200.56,614.48 L202.75,614.61 L204.94,614.75 L207.13,614.88 L209.33,615.02 L211.52,615.15 L213.71,615.29 L215.9,615.43 L218.1,615.56 L220.29,615.7 L222.48,615.83 L224.67,615.97 L226.87,616.1 L229.06,616.24 L231.25,616.37 L233.44,616.51 L235.64,616.64 L238.63,616.83" fill="none" stroke="#fff" stroke-width="15.21" stroke-linejoin="round"/>
<path d="M211.07,476.97 L213.26,477.11 L215.46,477.24 L217.65,477.38 L219.84,477.51 L222.03,477.65 L224.23,477.78 L226.42,477.92 L228.61,478.05 L230.81,478.19 L233,478.32 L235.19,478.46 L237.38,478.6 L239.58,478.73 L241.77,478.87 L243.96,479 L246.15,479.14 L248.35,479.27 L250.54,479.41 L252.73,479.54 L254.92,479.68 L257.12,479.81 L259.21,480.02 L261.26,480.35 L263.24,480.83 L265.16,481.45 L267.01,482.2 L268.79,483.08 L270.49,484.1 L272.11,485.25 L273.66,486.52 L275.12,487.93 L276.49,489.45 L277.77,491.1 L278.95,492.86 L280.04,494.74 L281.04,496.72 L281.93,498.81 L282.73,501.01 L283.42,503.3 L284.01,505.68 L284.49,508.15 L284.86,510.71 L285.13,513.34 L285.3,516.05 L285.35,518.82 L285.3,521.66 L285.13,524.55 L284.86,527.49 L284.49,530.48 L284.01,533.51 L283.42,536.57 L282.73,539.66 L281.93,542.77 L281.04,545.9 L280.04,549.03 L278.95,552.17 L277.77,555.3 L276.49,558.42 L275.12,561.53 L273.66,564.62 L272.11,567.68 L270.49,570.7 L268.79,573.68 L267.01,576.62 L265.16,579.51 L263.24,582.34 L261.26,585.11 L259.21,587.8 L257.12,590.43 L254.92,593.1 L252.73,595.76 L250.54,598.43 L248.35,601.1 L246.15,603.77 L243.96,606.43 L241.77,609.1 L239.58,611.77 L237.38,614.43 L235.19,617.1 L233,619.77 L230.81,622.44 L228.61,625.1 L226.42,627.77 L224.23,630.44 L222.03,633.1 L219.84,635.77 L217.65,638.44 L215.46,641.11 L213.26,643.77 L211.07,646.44" fill="none" stroke="#111" stroke-width="18.81" stroke-linejoin="round"/>
<path d="M210.27,476.92 L213.26,477.11 L215.46,477.24 L217.65,477.38 L219.84,477.51 L222.03,477.65 L224.23,477.78 L226.42,477.92 L228.61,478.05 L230.81,478.19 L233,478.32 L235.19,478.46 L237.38,478.6 L239.58,478.73 L241.77,478.87 L243.96,479 L246.15,479.14 L248.35,479.27 L250.54,479.41 L252.73,479.54 L254.92,479.68 L257.12,479.81 L259.21,480.02 L261.26,480.35 L263.24,480.83 L265.16,481.45 L267.01,482.2 L268.79,483.08 L270.49,484.1 L272.11,485.25 L273.66,486.52 L275.12,487.93 L276.49,489.45 L277.77,491.1 L278.95,492.86 L280.04,494.74 L281.04,496.72 L281.93,498.81 L282.73,501.01 L283.42,503.3 L284.01,505.68 L284.49,508.15 L284.86,510.71 L285.13,513.34 L285.3,516.05 L285.35,518.82 L285.3,521.66 L285.13,524.55 L284.86,527.49 L284.49,530.48 L284.01,533.51 L283.42,536.57 L282.73,539.66 L281.93,542.77 L281.04,545.9 L280.04,549.03 L278.95,552.17 L277.77,555.3 L276.49,558.42 L275.12,561.53 L273.66,564.62 L272.11,567.68 L270.49,570.7 L268.79,573.68 L267.01,576.62 L265.16,579.51 L263.24,582.34 L261.26,585.11 L259.21,587.8 L257.12,590.43 L254.92,593.1 L252.73,595.76 L250.54,598.43 L248.35,601.1 L246.15,603.77 L243.96,606.43 L241.77,609.1 L239.58,611.77 L237.38,614.43 L235.19,617.1 L233,619.77 L230.81,622.44 L228.61,625.1 L226.42,627.77 L224.23,630.44 L222.03,633.1 L219.84,635.77 L217.65,638.44 L215.46,641.11 L213.26,643.77 L210.56,647.06" fill="none" stroke="#fff" stroke-width="16.01" stroke-linejoin="round"/>
<path d="M228.01,481.33 L226.02,483.76 L223.83,486.42 L221.63,489.09 L219.44,491.76 L217.25,494.42 L215.06,497.09 L212.86,499.76 L210.67,502.43 L208.48,505.09 L206.29,507.76 L204.09,510.43 L201.99,513.05 L199.95,515.75 L197.97,518.52 L196.05,521.35 L194.2,524.23 L192.42,527.17 L190.72,530.16 L189.09,533.18 L187.55,536.24 L186.09,539.32 L184.72,542.43 L183.44,545.56 L182.26,548.69 L181.16,551.83 L180.17,554.96 L179.27,558.09 L178.48,561.2 L177.79,564.28 L177.2,567.35 L176.72,570.37 L176.34,573.36 L176.08,576.31 L175.91,579.2 L175.86,582.04 L175.91,584.81 L176.08,587.51 L176.34,590.15 L176.72,592.7 L177.2,595.17 L177.79,597.56 L178.48,599.85 L179.27,602.04 L180.17,604.13 L181.16,606.12 L182.26,607.99 L183.44,609.76 L184.72,611.4 L186.09,612.93 L187.55,614.33 L189.09,615.61 L190.72,616.76 L192.42,617.77 L194.2,618.66 L196.05,619.41 L197.97,620.02 L199.95,620.5 L201.99,620.84 L204.09,621.04 L206.29,621.18 L208.48,621.31 L210.67,621.45 L212.86,621.58 L215.06,621.72 L217.25,621.85 L219.44,621.99 L221.63,622.13 L223.83,622.26 L226.02,622.4 L228.01,622.52" fill="none" stroke="#111" stroke-width="18.41" stroke-linejoin="round"/>
<path d="M228.52,480.71 L226.02,483.76 L223.83,486.42 L221.63,489.09 L219.44,491.76 L217.25,494.42 L215.06,497.09 L212.86,499.76 L210.67,502.43 L208.48,505.09 L206.29,507.76 L204.09,510.43 L201.99,513.05 L199.95,515.75 L197.97,518.52 L196.05,521.35 L194.2,524.23 L192.42,527.17 L190.72,530.16 L189.09,533.18 L187.55,536.24 L186.09,539.32 L184.72,542.43 L183.44,545.56 L182.26,548.69 L181.16,551.83 L180.17,554.96 L179.27,558.09 L178.48,561.2 L177.79,564.28 L177.2,567.35 L176.72,570.37 L176.34,573.36 L176.08,576.31 L175.91,579.2 L175.86,582.04 L175.91,584.81 L176.08,587.51 L176.34,590.15 L176.72,592.7 L177.2,595.17 L177.79,597.56 L178.48,599.85 L179.27,602.04 L180.17,604.13 L181.16,606.12 L182.26,607.99 L183.44,609.76 L184.72,611.4 L186.09,612.93 L187.55,614.33 L189.09,615.61 L190.72,616.76 L192.42,617.77 L194.2,618.66 L196.05,619.41 L197.97,620.02 L199.95,620.5 L201.99,620.84 L204.09,621.04 L206.29,621.18 L208.48,621.31 L210.67,621.45 L212.86,621.58 L215.06,621.72 L217.25,621.85 L219.44,621.99 L221.63,622.13 L223.83,622.26 L226.02,622.4 L228.81,622.57" fill="none" stroke="#fff" stroke-width="16.41" stroke-linejoin="round"/>
<path d="M211.07,476.97 L213.26,477.11 L215.46,477.24 L217.65,477.38 L219.84,477.51 L222.03,477.65 L224.23,477.78 L226.42,477.92 L228.34,478.04" fill="none" stroke="#111" stroke-width="18.81" stroke-linejoin="round"/>
<path d="M210.27,476.92 L213.26,477.11 L215.46,477.24 L217.65,477.38 L219.84,477.51 L222.03,477.65 L224.23,477.78 L226.42,477.92 L229.14,478.09" fill="none" stroke="#fff" stroke-width="16.01" stroke-linejoin="round"/>
<path d="M228.34,625.44 L226.42,627.77 L224.23,630.44 L222.03,633.1 L219.84,635.77 L217.65,638.44 L215.46,641.11 L213.26,643.77 L211.07,646.44" fill="none" stroke="#111" stroke-width="18.81" stroke-linejoin="round"/>
<path d="M228.85,624.82 L226.42,627.77 L224.23,630.44 L222.03,633.1 L219.84,635.77 L217.65,638.44 L215.46,641.11 L213.26,643.77 L210.56,647.06" fill="none" stroke="#fff" stroke-width="16.01" stroke-linejoin="round"/>
<ellipse cx="211.07" cy="476.97" rx="8.7" ry="6.83" transform="rotate(93.53 211.07 476.97)" fill="#fff" stroke="#111" stroke-width="1.7"/>
<ellipse cx="211.07" cy="646.44" rx="8.7" ry="1.96" transform="rotate(-140.58 211.07 646.44)" fill="#fff" stroke="#111" stroke-width="1.5"/>
<ellipse cx="262.45" cy="461.52" rx="8.7" ry="1.96" transform="rotate(-140.58 262.45 461.52)" fill="#fff" stroke="#111" stroke-width="1.2"/>
<ellipse cx="262.45" cy="630.99" rx="8.7" ry="6.83" transform="rotate(93.53 262.45 630.99)" fill="#fff" stroke="#111" stroke-width="1.2"/>
<path d="M262.45,461.52 L260.25,464.19 L258.06,466.86 L255.87,469.52 L253.67,472.19 L251.48,474.86 L249.29,477.53 L247.1,480.19 L244.9,482.86 L242.71,485.53 L240.52,488.19 L238.33,490.86 L236.13,493.53 L233.94,496.2 L231.75,498.86 L229.56,501.53 L227.36,504.2 L225.17,506.86 L222.98,509.53 L220.79,512.2 L218.59,514.87 L216.4,517.53 L214.3,520.16 L212.26,522.86 L210.28,525.62 L208.36,528.45 L206.51,531.34 L204.73,534.28 L203.03,537.26 L201.4,540.29 L199.86,543.34 L198.4,546.43 L197.03,549.54 L195.75,552.66 L194.56,555.8 L193.47,558.93 L192.48,562.07 L191.58,565.19 L190.79,568.3 L190.1,571.39 L189.51,574.45 L189.03,577.48 L188.65,580.47 L188.38,583.41 L188.22,586.31 L188.17,589.14 L188.22,591.91 L188.38,594.62 L188.65,597.25 L189.03,599.81 L189.51,602.28 L190.1,604.66 L190.79,606.95 L191.58,609.15 L192.48,611.24 L193.47,613.22 L194.56,615.1 L195.75,616.86 L197.03,618.51 L198.4,620.03 L199.86,621.44 L201.4,622.71 L203.03,623.86 L204.73,624.88 L206.51,625.76 L208.36,626.51 L210.28,627.13 L212.26,627.61 L214.3,627.95 L216.4,628.15 L218.59,628.28 L220.79,628.42 L222.98,628.55 L225.17,628.69 L227.36,628.82 L229.56,628.96 L231.75,629.1 L233.94,629.23 L236.13,629.37 L238.33,629.5 L240.52,629.64 L242.71,629.77 L244.9,629.91 L247.1,630.04 L249.29,630.18 L251.48,630.31 L253.67,630.45 L255.87,630.59 L258.06,630.72 L260.25,630.86 L262.45,630.99" fill="none" stroke="#111" stroke-width="18.91" stroke-linejoin="round"/>
<path d="M262.95,460.9 L260.25,464.19 L258.06,466.86 L255.87,469.52 L253.67,472.19 L251.48,474.86 L249.29,477.53 L247.1,480.19 L244.9,482.86 L242.71,485.53 L240.52,488.19 L238.33,490.86 L236.13,493.53 L233.94,496.2 L231.75,498.86 L229.56,501.53 L227.36,504.2 L225.17,506.86 L222.98,509.53 L220.79,512.2 L218.59,514.87 L216.4,517.53 L214.3,520.16 L212.26,522.86 L210.28,525.62 L208.36,528.45 L206.51,531.34 L204.73,534.28 L203.03,537.26 L201.4,540.29 L199.86,543.34 L198.4,546.43 L197.03,549.54 L195.75,552.66 L194.56,555.8 L193.47,558.93 L192.48,562.07 L191.58,565.19 L190.79,568.3 L190.1,571.39 L189.51,574.45 L189.03,577.48 L188.65,580.47 L188.38,583.41 L188.22,586.31 L188.17,589.14 L188.22,591.91 L188.38,594.62 L188.65,597.25 L189.03,599.81 L189.51,602.28 L190.1,604.66 L190.79,606.95 L191.58,609.15 L192.48,611.24 L193.47,613.22 L194.56,615.1 L195.75,616.86 L197.03,618.51 L198.4,620.03 L199.86,621.44 L201.4,622.71 L203.03,623.86 L204.73,624.88 L206.51,625.76 L208.36,626.51 L210.28,627.13 L212.26,627.61 L214.3,627.95 L216.4,628.15 L218.59,628.28 L220.79,628.42 L222.98,628.55 L225.17,628.69 L227.36,628.82 L229.56,628.96 L231.75,629.1 L233.94,629.23 L236.13,629.37 L238.33,629.5 L240.52,629.64 L242.71,629.77 L244.9,629.91 L247.1,630.04 L249.29,630.18 L251.48,630.31 L253.67,630.45 L255.87,630.59 L258.06,630.72 L260.25,630.86 L263.24,631.04" fill="none" stroke="#fff" stroke-width="15.91" stroke-linejoin="round"/>
<path d="M235.69,491.18 L237.88,491.32 L240.07,491.45 L242.27,491.59 L244.46,491.72 L246.65,491.86 L248.84,491.99 L251.04,492.13 L253.23,492.27 L255.42,492.4 L257.61,492.54 L259.81,492.67 L262,492.81 L264.19,492.94 L266.38,493.08 L268.58,493.21 L270.77,493.35 L272.96,493.48 L275.15,493.62 L277.35,493.76 L279.54,493.89 L281.73,494.03 L283.83,494.23 L285.87,494.57 L287.86,495.04 L289.77,495.66 L291.62,496.41 L293.4,497.29 L295.11,498.31 L296.73,499.46 L298.27,500.74 L299.73,502.14 L301.1,503.67 L302.38,505.31 L303.57,507.07 L304.66,508.95 L305.66,510.94 L306.55,513.03 L307.34,515.22 L308.04,517.51 L308.62,519.89 L309.1,522.37 L309.48,524.92 L309.75,527.55 L309.91,530.26 L309.97,533.03 L309.91,535.87 L309.75,538.76 L309.48,541.71 L309.1,544.69 L308.62,547.72 L308.04,550.78 L307.34,553.87 L306.55,556.98 L305.66,560.11 L304.66,563.24 L303.57,566.38 L302.38,569.51 L301.1,572.64 L299.73,575.74 L298.27,578.83 L296.73,581.89 L295.11,584.91 L293.4,587.9 L291.62,590.83 L289.77,593.72 L287.86,596.55 L285.87,599.32 L283.83,602.02 L281.73,604.64 L279.54,607.31 L277.35,609.98 L275.15,612.64 L272.96,615.31 L270.77,617.98 L268.58,620.64 L266.38,623.31 L264.19,625.98 L262,628.65 L259.81,631.31 L257.61,633.98 L255.42,636.65 L253.23,639.31 L251.04,641.98 L248.84,644.65 L246.65,647.32 L244.46,649.98 L242.27,652.65 L240.07,655.32 L237.88,657.98 L235.69,660.65" fill="none" stroke="#111" stroke-width="18.81" stroke-linejoin="round"/>
<path d="M234.89,491.13 L237.88,491.32 L240.07,491.45 L242.27,491.59 L244.46,491.72 L246.65,491.86 L248.84,491.99 L251.04,492.13 L253.23,492.27 L255.42,492.4 L257.61,492.54 L259.81,492.67 L262,492.81 L264.19,492.94 L266.38,493.08 L268.58,493.21 L270.77,493.35 L272.96,493.48 L275.15,493.62 L277.35,493.76 L279.54,493.89 L281.73,494.03 L283.83,494.23 L285.87,494.57 L287.86,495.04 L289.77,495.66 L291.62,496.41 L293.4,497.29 L295.11,498.31 L296.73,499.46 L298.27,500.74 L299.73,502.14 L301.1,503.67 L302.38,505.31 L303.57,507.07 L304.66,508.95 L305.66,510.94 L306.55,513.03 L307.34,515.22 L308.04,517.51 L308.62,519.89 L309.1,522.37 L309.48,524.92 L309.75,527.55 L309.91,530.26 L309.97,533.03 L309.91,535.87 L309.75,538.76 L309.48,541.71 L309.1,544.69 L308.62,547.72 L308.04,550.78 L307.34,553.87 L306.55,556.98 L305.66,560.11 L304.66,563.24 L303.57,566.38 L302.38,569.51 L301.1,572.64 L299.73,575.74 L298.27,578.83 L296.73,581.89 L295.11,584.91 L293.4,587.9 L291.62,590.83 L289.77,593.72 L287.86,596.55 L285.87,599.32 L283.83,602.02 L281.73,604.64 L279.54,607.31 L277.35,609.98 L275.15,612.64 L272.96,615.31 L270.77,617.98 L268.58,620.64 L266.38,623.31 L264.19,625.98 L262,628.65 L259.81,631.31 L257.61,633.98 L255.42,636.65 L253.23,639.31 L251.04,641.98 L248.84,644.65 L246.65,647.32 L244.46,649.98 L242.27,652.65 L240.07,655.32 L237.88,657.98 L235.18,661.27" fill="none" stroke="#fff" stroke-width="16.01" stroke-linejoin="round"/>
<path d="M252.63,495.54 L250.63,497.97 L248.44,500.63 L246.25,503.3 L244.06,505.97 L241.86,508.64 L239.67,511.3 L237.48,513.97 L235.29,516.64 L233.09,519.3 L230.9,521.97 L228.71,524.64 L226.61,527.26 L224.57,529.96 L222.58,532.73 L220.67,535.56 L218.82,538.45 L217.04,541.38 L215.34,544.37 L213.71,547.39 L212.17,550.45 L210.71,553.54 L209.34,556.64 L208.06,559.77 L206.87,562.9 L205.78,566.04 L204.79,569.17 L203.89,572.3 L203.1,575.41 L202.41,578.5 L201.82,581.56 L201.34,584.59 L200.96,587.57 L200.69,590.52 L200.53,593.41 L200.48,596.25 L200.53,599.02 L200.69,601.73 L200.96,604.36 L201.34,606.91 L201.82,609.39 L202.41,611.77 L203.1,614.06 L203.89,616.25 L204.79,618.34 L205.78,620.33 L206.87,622.21 L208.06,623.97 L209.34,625.61 L210.71,627.14 L212.17,628.54 L213.71,629.82 L215.34,630.97 L217.04,631.99 L218.82,632.87 L220.67,633.62 L222.58,634.24 L224.57,634.71 L226.61,635.05 L228.71,635.25 L230.9,635.39 L233.09,635.52 L235.29,635.66 L237.48,635.8 L239.67,635.93 L241.86,636.07 L244.06,636.2 L246.25,636.34 L248.44,636.47 L250.63,636.61 L252.63,636.73" fill="none" stroke="#111" stroke-width="18.41" stroke-linejoin="round"/>
<path d="M253.14,494.92 L250.63,497.97 L248.44,500.63 L246.25,503.3 L244.06,505.97 L241.86,508.64 L239.67,511.3 L237.48,513.97 L235.29,516.64 L233.09,519.3 L230.9,521.97 L228.71,524.64 L226.61,527.26 L224.57,529.96 L222.58,532.73 L220.67,535.56 L218.82,538.45 L217.04,541.38 L215.34,544.37 L213.71,547.39 L212.17,550.45 L210.71,553.54 L209.34,556.64 L208.06,559.77 L206.87,562.9 L205.78,566.04 L204.79,569.17 L203.89,572.3 L203.1,575.41 L202.41,578.5 L201.82,581.56 L201.34,584.59 L200.96,587.57 L200.69,590.52 L200.53,593.41 L200.48,596.25 L200.53,599.02 L200.69,601.73 L200.96,604.36 L201.34,606.91 L201.82,609.39 L202.41,611.77 L203.1,614.06 L203.89,616.25 L204.79,618.34 L205.78,620.33 L206.87,622.21 L208.06,623.97 L209.34,625.61 L210.71,627.14 L212.17,628.54 L213.71,629.82 L215.34,630.97 L217.04,631.99 L218.82,632.87 L220.67,633.62 L222.58,634.24 L224.57,634.71 L226.61,635.05 L228.71,635.25 L230.9,635.39 L233.09,635.52 L235.29,635.66 L237.48,635.8 L239.67,635.93 L241.86,636.07 L244.06,636.2 L246.25,636.34 L248.44,636.47 L250.63,636.61 L253.43,636.78" fill="none" stroke="#fff" stroke-width="16.41" stroke-linejoin="round"/>
<path d="M235.69,491.18 L237.88,491.32 L240.07,491.45 L242.27,491.59 L244.46,491.72 L246.65,491.86 L248.84,491.99 L251.04,492.13 L252.95,492.25" fill="none" stroke="#111" stroke-width="18.81" stroke-linejoin="round"/>
<path d="M234.89,491.13 L237.88,491.32 L240.07,491.45 L242.27,491.59 L244.46,491.72 L246.65,491.86 L248.84,491.99 L251.04,492.13 L253.75,492.3" fill="none" stroke="#fff" stroke-width="16.01" stroke-linejoin="round"/>
<path d="M252.95,639.65 L251.04,641.98 L248.84,644.65 L246.65,647.32 L244.46,649.98 L242.27,652.65 L240.07,655.32 L237.88,657.98 L235.69,660.65" fill="none" stroke="#111" stroke-width="18.81" stroke-linejoin="round"/>
<path d="M253.46,639.03 L251.04,641.98 L248.84,644.65 L246.65,647.32 L244.46,649.98 L242.27,652.65 L240.07,655.32 L237.88,657.98 L235.18,661.27" fill="none" stroke="#fff" stroke-width="16.01" stroke-linejoin="round"/>
<ellipse cx="235.69" cy="491.18" rx="8.7" ry="6.83" transform="rotate(93.53 235.69 491.18)" fill="#fff" stroke="#111" stroke-width="1.7"/>
<ellipse cx="235.69" cy="660.65" rx="8.7" ry="1.96" transform="rotate(-140.58 235.69 660.65)" fill="#fff" stroke="#111" stroke-width="1.5"/>
<ellipse cx="287.06" cy="475.73" rx="8.7" ry="1.96" transform="rotate(-140.58 287.06 475.73)" fill="#fff" stroke="#111" stroke-width="1.2"/>
<ellipse cx="287.06" cy="645.2" rx="8.7" ry="6.83" transform="rotate(93.53 287.06 645.2)" fill="#fff" stroke="#111" stroke-width="1.2"/>
<path d="M287.06,475.73 L284.87,478.4 L282.68,481.07 L280.48,483.74 L278.29,486.4 L276.1,489.07 L273.91,491.74 L271.71,494.4 L269.52,497.07 L267.33,499.74 L265.14,502.41 L262.94,505.07 L260.75,507.74 L258.56,510.41 L256.37,513.07 L254.17,515.74 L251.98,518.41 L249.79,521.08 L247.59,523.74 L245.4,526.41 L243.21,529.08 L241.02,531.74 L238.92,534.37 L236.88,537.07 L234.89,539.83 L232.97,542.66 L231.12,545.55 L229.35,548.49 L227.64,551.47 L226.02,554.5 L224.48,557.56 L223.02,560.64 L221.65,563.75 L220.37,566.87 L219.18,570.01 L218.09,573.14 L217.09,576.28 L216.2,579.4 L215.4,582.51 L214.71,585.6 L214.13,588.66 L213.64,591.69 L213.27,594.68 L213,597.62 L212.84,600.52 L212.78,603.35 L212.84,606.13 L213,608.83 L213.27,611.47 L213.64,614.02 L214.13,616.49 L214.71,618.88 L215.4,621.17 L216.2,623.36 L217.09,625.45 L218.09,627.44 L219.18,629.31 L220.37,631.08 L221.65,632.72 L223.02,634.25 L224.48,635.65 L226.02,636.93 L227.64,638.07 L229.35,639.09 L231.12,639.98 L232.97,640.73 L234.89,641.34 L236.88,641.82 L238.92,642.16 L241.02,642.36 L243.21,642.5 L245.4,642.63 L247.59,642.77 L249.79,642.9 L251.98,643.04 L254.17,643.17 L256.37,643.31 L258.56,643.44 L260.75,643.58 L262.94,643.71 L265.14,643.85 L267.33,643.98 L269.52,644.12 L271.71,644.26 L273.91,644.39 L276.1,644.53 L278.29,644.66 L280.48,644.8 L282.68,644.93 L284.87,645.07 L287.06,645.2" fill="none" stroke="#111" stroke-width="18.91" stroke-linejoin="round"/>
<path d="M287.57,475.12 L284.87,478.4 L282.68,481.07 L280.48,483.74 L278.29,486.4 L276.1,489.07 L273.91,491.74 L271.71,494.4 L269.52,497.07 L267.33,499.74 L265.14,502.41 L262.94,505.07 L260.75,507.74 L258.56,510.41 L256.37,513.07 L254.17,515.74 L251.98,518.41 L249.79,521.08 L247.59,523.74 L245.4,526.41 L243.21,529.08 L241.02,531.74 L238.92,534.37 L236.88,537.07 L234.89,539.83 L232.97,542.66 L231.12,545.55 L229.35,548.49 L227.64,551.47 L226.02,554.5 L224.48,557.56 L223.02,560.64 L221.65,563.75 L220.37,566.87 L219.18,570.01 L218.09,573.14 L217.09,576.28 L216.2,579.4 L215.4,582.51 L214.71,585.6 L214.13,588.66 L213.64,591.69 L213.27,594.68 L213,597.62 L212.84,600.52 L212.78,603.35 L212.84,606.13 L213,608.83 L213.27,611.47 L213.64,614.02 L214.13,616.49 L214.71,618.88 L215.4,621.17 L216.2,623.36 L217.09,625.45 L218.09,627.44 L219.18,629.31 L220.37,631.08 L221.65,632.72 L223.02,634.25 L224.48,635.65 L226.02,636.93 L227.64,638.07 L229.35,639.09 L231.12,639.98 L232.97,640.73 L234.89,641.34 L236.88,641.82 L238.92,642.16 L241.02,642.36 L243.21,642.5 L245.4,642.63 L247.59,642.77 L249.79,642.9 L251.98,643.04 L254.17,643.17 L256.37,643.31 L258.56,643.44 L260.75,643.58 L262.94,643.71 L265.14,643.85 L267.33,643.98 L269.52,644.12 L271.71,644.26 L273.91,644.39 L276.1,644.53 L278.29,644.66 L280.48,644.8 L282.68,644.93 L284.87,645.07 L287.86,645.25" fill="none" stroke="#fff" stroke-width="15.91" stroke-linejoin="round"/>
<path d="M277.57,506.46 L277.84,506.48 L280.04,506.61 L282.23,506.75 L284.42,506.88 L286.61,507.02 L288.81,507.15 L291,507.29 L293.19,507.43 L295.38,507.56 L297.58,507.7 L299.77,507.83 L301.96,507.97 L304.15,508.1 L306.35,508.24 L308.45,508.44 L310.49,508.78 L312.47,509.26 L314.39,509.87 L316.24,510.62 L318.02,511.51 L319.72,512.52 L321.35,513.67 L322.89,514.95 L324.35,516.35 L325.72,517.88 L327,519.52 L328.18,521.29 L329.28,523.16 L330.27,525.15 L331.17,527.24 L331.96,529.43 L332.65,531.72 L333.24,534.11 L333.72,536.58 L334.1,539.13 L334.37,541.77 L334.53,544.47 L334.58,547.24 L334.53,550.08 L334.37,552.97 L334.1,555.92 L333.72,558.91 L333.24,561.93 L332.65,565 L331.96,568.08 L331.17,571.19 L330.27,574.32 L329.28,577.45 L328.18,580.59 L327,583.72 L325.72,586.85 L324.35,589.96 L322.89,593.04 L321.35,596.1 L319.72,599.12 L318.02,602.11 L316.24,605.05 L314.39,607.93 L312.47,610.76 L310.49,613.53 L308.45,616.23 L306.35,618.85 L304.15,621.52 L301.96,624.19 L299.77,626.85 L297.58,629.52 L295.38,632.19 L293.19,634.86 L291,637.52 L288.81,640.19 L286.61,642.86 L284.42,645.52 L282.23,648.19 L280.04,650.86 L277.84,653.53 L277.57,653.86" fill="none" stroke="#111" stroke-width="18.86" stroke-linejoin="round"/>
<path d="M276.77,506.41 L277.84,506.48 L280.04,506.61 L282.23,506.75 L284.42,506.88 L286.61,507.02 L288.81,507.15 L291,507.29 L293.19,507.43 L295.38,507.56 L297.58,507.7 L299.77,507.83 L301.96,507.97 L304.15,508.1 L306.35,508.24 L308.45,508.44 L310.49,508.78 L312.47,509.26 L314.39,509.87 L316.24,510.62 L318.02,511.51 L319.72,512.52 L321.35,513.67 L322.89,514.95 L324.35,516.35 L325.72,517.88 L327,519.52 L328.18,521.29 L329.28,523.16 L330.27,525.15 L331.17,527.24 L331.96,529.43 L332.65,531.72 L333.24,534.11 L333.72,536.58 L334.1,539.13 L334.37,541.77 L334.53,544.47 L334.58,547.24 L334.53,550.08 L334.37,552.97 L334.1,555.92 L333.72,558.91 L333.24,561.93 L332.65,565 L331.96,568.08 L331.17,571.19 L330.27,574.32 L329.28,577.45 L328.18,580.59 L327,583.72 L325.72,586.85 L324.35,589.96 L322.89,593.04 L321.35,596.1 L319.72,599.12 L318.02,602.11 L316.24,605.05 L314.39,607.93 L312.47,610.76 L310.49,613.53 L308.45,616.23 L306.35,618.85 L304.15,621.52 L301.96,624.19 L299.77,626.85 L297.58,629.52 L295.38,632.19 L293.19,634.86 L291,637.52 L288.81,640.19 L286.61,642.86 L284.42,645.52 L282.23,648.19 L280.04,650.86 L277.84,653.53 L277.06,654.48" fill="none" stroke="#fff" stroke-width="15.96" stroke-linejoin="round"/>
<path d="M335.2,522.05 L336.66,523.46 L338.03,524.98 L339.31,526.63 L340.49,528.39 L341.58,530.27 L342.58,532.25 L343.47,534.34 L344.27,536.54 L344.96,538.83 L345.55,541.21 L346.03,543.68 L346.4,546.24 L346.67,548.87 L346.84,551.58 L346.89,554.35 L346.84,557.19 L346.67,560.08 L346.4,563.02 L346.03,566.01 L345.55,569.04 L344.96,572.1 L344.27,575.19 L343.47,578.3 L342.58,581.43 L341.58,584.56 L340.49,587.7 L339.31,590.83 L338.03,593.95 L336.66,597.06 L335.2,600.15 L333.65,603.21 L332.03,606.23 L330.33,609.21 L328.55,612.15 L326.7,615.04 L324.78,617.87 L322.8,620.64 L320.75,623.33 L318.66,625.96 L316.46,628.63 L314.27,631.29 L312.08,633.96 L309.89,636.63 L307.69,639.3 L305.5,641.96 L303.31,644.63 L301.12,647.3 L298.92,649.96 L296.73,652.63 L294.54,655.3 L292.34,657.97 L290.15,660.63 L289.88,660.97" fill="none" stroke="#111" stroke-width="18.66" stroke-linejoin="round"/>
<path d="M334.62,521.5 L336.66,523.46 L338.03,524.98 L339.31,526.63 L340.49,528.39 L341.58,530.27 L342.58,532.25 L343.47,534.34 L344.27,536.54 L344.96,538.83 L345.55,541.21 L346.03,543.68 L346.4,546.24 L346.67,548.87 L346.84,551.58 L346.89,554.35 L346.84,557.19 L346.67,560.08 L346.4,563.02 L346.03,566.01 L345.55,569.04 L344.96,572.1 L344.27,575.19 L343.47,578.3 L342.58,581.43 L341.58,584.56 L340.49,587.7 L339.31,590.83 L338.03,593.95 L336.66,597.06 L335.2,600.15 L333.65,603.21 L332.03,606.23 L330.33,609.21 L328.55,612.15 L326.7,615.04 L324.78,617.87 L322.8,620.64 L320.75,623.33 L318.66,625.96 L316.46,628.63 L314.27,631.29 L312.08,633.96 L309.89,636.63 L307.69,639.3 L305.5,641.96 L303.31,644.63 L301.12,647.3 L298.92,649.96 L296.73,652.63 L294.54,655.3 L292.34,657.97 L290.15,660.63 L289.37,661.59" fill="none" stroke="#fff" stroke-width="16.16" stroke-linejoin="round"/>
<path d="M302.19,520.67 L302.46,520.69 L304.65,520.83 L306.85,520.96 L309.04,521.1 L311.23,521.23 L313.42,521.37 L315.62,521.5 L317.81,521.64 L320,521.77 L322.19,521.91 L324.39,522.04 L326.58,522.18 L328.77,522.31 L330.96,522.45 L333.06,522.65 L335.11,522.99 L337.09,523.47 L339.01,524.08 L340.86,524.83 L342.63,525.72 L344.34,526.74 L345.96,527.88 L347.51,529.16 L348.96,530.56 L350.33,532.09 L351.61,533.73 L352.8,535.5 L353.89,537.37 L354.89,539.36 L355.78,541.45 L356.58,543.64 L357.27,545.93 L357.85,548.32 L358.34,550.79 L358.71,553.34 L358.98,555.98 L359.14,558.68 L359.2,561.46 L359.14,564.29 L358.98,567.19 L358.71,570.13 L358.34,573.12 L357.85,576.15 L357.27,579.21 L356.58,582.3 L355.78,585.41 L354.89,588.53 L353.89,591.67 L352.8,594.8 L351.61,597.94 L350.33,601.06 L348.96,604.17 L347.51,607.25 L345.96,610.31 L344.34,613.34 L342.63,616.32 L340.86,619.26 L339.01,622.15 L337.09,624.98 L335.11,627.74 L333.06,630.44 L330.96,633.07 L328.77,635.73 L326.58,638.4 L324.39,641.07 L322.19,643.73 L320,646.4 L317.81,649.07 L315.62,651.74 L313.42,654.4 L311.23,657.07 L309.04,659.74 L306.85,662.4 L304.65,665.07 L302.46,667.74 L302.19,668.07" fill="none" stroke="#111" stroke-width="18.86" stroke-linejoin="round"/>
<path d="M301.39,520.62 L302.46,520.69 L304.65,520.83 L306.85,520.96 L309.04,521.1 L311.23,521.23 L313.42,521.37 L315.62,521.5 L317.81,521.64 L320,521.77 L322.19,521.91 L324.39,522.04 L326.58,522.18 L328.77,522.31 L330.96,522.45 L333.06,522.65 L335.11,522.99 L337.09,523.47 L339.01,524.08 L340.86,524.83 L342.63,525.72 L344.34,526.74 L345.96,527.88 L347.51,529.16 L348.96,530.56 L350.33,532.09 L351.61,533.73 L352.8,535.5 L353.89,537.37 L354.89,539.36 L355.78,541.45 L356.58,543.64 L357.27,545.93 L357.85,548.32 L358.34,550.79 L358.71,553.34 L358.98,555.98 L359.14,558.68 L359.2,561.46 L359.14,564.29 L358.98,567.19 L358.71,570.13 L358.34,573.12 L357.85,576.15 L357.27,579.21 L356.58,582.3 L355.78,585.41 L354.89,588.53 L353.89,591.67 L352.8,594.8 L351.61,597.94 L350.33,601.06 L348.96,604.17 L347.51,607.25 L345.96,610.31 L344.34,613.34 L342.63,616.32 L340.86,619.26 L339.01,622.15 L337.09,624.98 L335.11,627.74 L333.06,630.44 L330.96,633.07 L328.77,635.73 L326.58,638.4 L324.39,641.07 L322.19,643.73 L320,646.4 L317.81,649.07 L315.62,651.74 L313.42,654.4 L311.23,657.07 L309.04,659.74 L306.85,662.4 L304.65,665.07 L302.46,667.74 L301.68,668.69" fill="none" stroke="#fff" stroke-width="15.96" stroke-linejoin="round"/>
<path d="M359.81,536.27 L361.27,537.67 L362.64,539.2 L363.92,540.84 L365.11,542.6 L366.2,544.48 L367.19,546.47 L368.09,548.56 L368.88,550.75 L369.58,553.04 L370.16,555.42 L370.64,557.9 L371.02,560.45 L371.29,563.08 L371.45,565.79 L371.51,568.56 L371.45,571.4 L371.29,574.29 L371.02,577.24 L370.64,580.22 L370.16,583.25 L369.58,586.31 L368.88,589.4 L368.09,592.51 L367.19,595.64 L366.2,598.77 L365.11,601.91 L363.92,605.04 L362.64,608.17 L361.27,611.27 L359.81,614.36 L358.27,617.42 L356.65,620.44 L354.94,623.43 L353.16,626.36 L351.31,629.25 L349.4,632.08 L347.41,634.85 L345.37,637.55 L343.27,640.17 L341.08,642.84 L338.89,645.51 L336.69,648.17 L334.5,650.84 L332.31,653.51 L330.12,656.17 L327.92,658.84 L325.73,661.51 L323.54,664.18 L321.35,666.84 L319.15,669.51 L316.96,672.18 L314.77,674.84 L314.49,675.18" fill="none" stroke="#111" stroke-width="18.66" stroke-linejoin="round"/>
<path d="M359.24,535.71 L361.27,537.67 L362.64,539.2 L363.92,540.84 L365.11,542.6 L366.2,544.48 L367.19,546.47 L368.09,548.56 L368.88,550.75 L369.58,553.04 L370.16,555.42 L370.64,557.9 L371.02,560.45 L371.29,563.08 L371.45,565.79 L371.51,568.56 L371.45,571.4 L371.29,574.29 L371.02,577.24 L370.64,580.22 L370.16,583.25 L369.58,586.31 L368.88,589.4 L368.09,592.51 L367.19,595.64 L366.2,598.77 L365.11,601.91 L363.92,605.04 L362.64,608.17 L361.27,611.27 L359.81,614.36 L358.27,617.42 L356.65,620.44 L354.94,623.43 L353.16,626.36 L351.31,629.25 L349.4,632.08 L347.41,634.85 L345.37,637.55 L343.27,640.17 L341.08,642.84 L338.89,645.51 L336.69,648.17 L334.5,650.84 L332.31,653.51 L330.12,656.17 L327.92,658.84 L325.73,661.51 L323.54,664.18 L321.35,666.84 L319.15,669.51 L316.96,672.18 L314.77,674.84 L313.98,675.8" fill="none" stroke="#fff" stroke-width="16.16" stroke-linejoin="round"/>
<path d="M326.8,534.88 L327.08,534.9 L329.27,535.04 L331.46,535.17 L333.65,535.31 L335.85,535.44 L338.04,535.58 L340.23,535.71 L342.42,535.85 L344.62,535.99 L346.81,536.12 L349,536.26 L351.19,536.39 L353.39,536.53 L355.58,536.66 L357.68,536.86 L359.72,537.2 L361.7,537.68 L363.62,538.3 L365.47,539.05 L367.25,539.93 L368.95,540.95 L370.58,542.1 L372.12,543.37 L373.58,544.78 L374.95,546.3 L376.23,547.95 L377.42,549.71 L378.51,551.59 L379.5,553.57 L380.4,555.66 L381.19,557.86 L381.88,560.15 L382.47,562.53 L382.95,565 L383.33,567.56 L383.6,570.19 L383.76,572.9 L383.81,575.67 L383.76,578.5 L383.6,581.4 L383.33,584.34 L382.95,587.33 L382.47,590.36 L381.88,593.42 L381.19,596.51 L380.4,599.62 L379.5,602.74 L378.51,605.88 L377.42,609.01 L376.23,612.15 L374.95,615.27 L373.58,618.38 L372.12,621.47 L370.58,624.52 L368.95,627.55 L367.25,630.53 L365.47,633.47 L363.62,636.36 L361.7,639.19 L359.72,641.95 L357.68,644.65 L355.58,647.28 L353.39,649.94 L351.19,652.61 L349,655.28 L346.81,657.95 L344.62,660.61 L342.42,663.28 L340.23,665.95 L338.04,668.61 L335.85,671.28 L333.65,673.95 L331.46,676.62 L329.27,679.28 L327.08,681.95 L326.8,682.29" fill="none" stroke="#111" stroke-width="18.86" stroke-linejoin="round"/>
<path d="M326,534.84 L327.08,534.9 L329.27,535.04 L331.46,535.17 L333.65,535.31 L335.85,535.44 L338.04,535.58 L340.23,535.71 L342.42,535.85 L344.62,535.99 L346.81,536.12 L349,536.26 L351.19,536.39 L353.39,536.53 L355.58,536.66 L357.68,536.86 L359.72,537.2 L361.7,537.68 L363.62,538.3 L365.47,539.05 L367.25,539.93 L368.95,540.95 L370.58,542.1 L372.12,543.37 L373.58,544.78 L374.95,546.3 L376.23,547.95 L377.42,549.71 L378.51,551.59 L379.5,553.57 L380.4,555.66 L381.19,557.86 L381.88,560.15 L382.47,562.53 L382.95,565 L383.33,567.56 L383.6,570.19 L383.76,572.9 L383.81,575.67 L383.76,578.5 L383.6,581.4 L383.33,584.34 L382.95,587.33 L382.47,590.36 L381.88,593.42 L381.19,596.51 L380.4,599.62 L379.5,602.74 L378.51,605.88 L377.42,609.01 L376.23,612.15 L374.95,615.27 L373.58,618.38 L372.12,621.47 L370.58,624.52 L368.95,627.55 L367.25,630.53 L365.47,633.47 L363.62,636.36 L361.7,639.19 L359.72,641.95 L357.68,644.65 L355.58,647.28 L353.39,649.94 L351.19,652.61 L349,655.28 L346.81,657.95 L344.62,660.61 L342.42,663.28 L340.23,665.95 L338.04,668.61 L335.85,671.28 L333.65,673.95 L331.46,676.62 L329.27,679.28 L327.08,681.95 L326.29,682.9" fill="none" stroke="#fff" stroke-width="15.96" stroke-linejoin="round"/>
<path d="M384.43,550.48 L385.89,551.88 L387.26,553.41 L388.54,555.05 L389.72,556.82 L390.82,558.69 L391.81,560.68 L392.71,562.77 L393.5,564.96 L394.19,567.25 L394.78,569.64 L395.26,572.11 L395.64,574.66 L395.91,577.3 L396.07,580 L396.12,582.77 L396.07,585.61 L395.91,588.5 L395.64,591.45 L395.26,594.44 L394.78,597.46 L394.19,600.53 L393.5,603.61 L392.71,606.72 L391.81,609.85 L390.82,612.98 L389.72,616.12 L388.54,619.25 L387.26,622.38 L385.89,625.49 L384.43,628.57 L382.89,631.63 L381.26,634.65 L379.56,637.64 L377.78,640.58 L375.93,643.46 L374.01,646.29 L372.03,649.06 L369.99,651.76 L367.89,654.38 L365.69,657.05 L363.5,659.72 L361.31,662.38 L359.12,665.05 L356.92,667.72 L354.73,670.39 L352.54,673.05 L350.35,675.72 L348.15,678.39 L345.96,681.05 L343.77,683.72 L341.58,686.39 L339.38,689.06 L339.11,689.39" fill="none" stroke="#111" stroke-width="18.66" stroke-linejoin="round"/>
<path d="M383.85,549.92 L385.89,551.88 L387.26,553.41 L388.54,555.05 L389.72,556.82 L390.82,558.69 L391.81,560.68 L392.71,562.77 L393.5,564.96 L394.19,567.25 L394.78,569.64 L395.26,572.11 L395.64,574.66 L395.91,577.3 L396.07,580 L396.12,582.77 L396.07,585.61 L395.91,588.5 L395.64,591.45 L395.26,594.44 L394.78,597.46 L394.19,600.53 L393.5,603.61 L392.71,606.72 L391.81,609.85 L390.82,612.98 L389.72,616.12 L388.54,619.25 L387.26,622.38 L385.89,625.49 L384.43,628.57 L382.89,631.63 L381.26,634.65 L379.56,637.64 L377.78,640.58 L375.93,643.46 L374.01,646.29 L372.03,649.06 L369.99,651.76 L367.89,654.38 L365.69,657.05 L363.5,659.72 L361.31,662.38 L359.12,665.05 L356.92,667.72 L354.73,670.39 L352.54,673.05 L350.35,675.72 L348.15,678.39 L345.96,681.05 L343.77,683.72 L341.58,686.39 L339.38,689.06 L338.6,690.01" fill="none" stroke="#fff" stroke-width="16.16" stroke-linejoin="round"/>
<path d="M351.42,549.1 L351.69,549.11 L353.88,549.25 L356.08,549.38 L358.27,549.52 L360.46,549.66 L362.65,549.79 L364.85,549.93 L367.04,550.06 L369.23,550.2 L371.43,550.33 L373.62,550.47 L375.81,550.6 L378,550.74 L380.2,550.87 L382.29,551.08 L384.34,551.41 L386.32,551.89 L388.24,552.51 L390.09,553.26 L391.87,554.14 L393.57,555.16 L395.19,556.31 L396.74,557.58 L398.2,558.99 L399.57,560.51 L400.85,562.16 L402.03,563.92 L403.12,565.8 L404.12,567.78 L405.01,569.87 L405.81,572.07 L406.5,574.36 L407.09,576.74 L407.57,579.21 L407.94,581.77 L408.21,584.4 L408.38,587.11 L408.43,589.88 L408.38,592.72 L408.21,595.61 L407.94,598.55 L407.57,601.54 L407.09,604.57 L406.5,607.63 L405.81,610.72 L405.01,613.83 L404.12,616.96 L403.12,620.09 L402.03,623.23 L400.85,626.36 L399.57,629.48 L398.2,632.59 L396.74,635.68 L395.19,638.74 L393.57,641.76 L391.87,644.74 L390.09,647.68 L388.24,650.57 L386.32,653.4 L384.34,656.17 L382.29,658.86 L380.2,661.49 L378,664.16 L375.81,666.82 L373.62,669.49 L371.43,672.16 L369.23,674.83 L367.04,677.49 L364.85,680.16 L362.65,682.83 L360.46,685.49 L358.27,688.16 L356.08,690.83 L353.88,693.5 L351.69,696.16 L351.42,696.5" fill="none" stroke="#111" stroke-width="18.86" stroke-linejoin="round"/>
<path d="M350.62,549.05 L351.69,549.11 L353.88,549.25 L356.08,549.38 L358.27,549.52 L360.46,549.66 L362.65,549.79 L364.85,549.93 L367.04,550.06 L369.23,550.2 L371.43,550.33 L373.62,550.47 L375.81,550.6 L378,550.74 L380.2,550.87 L382.29,551.08 L384.34,551.41 L386.32,551.89 L388.24,552.51 L390.09,553.26 L391.87,554.14 L393.57,555.16 L395.19,556.31 L396.74,557.58 L398.2,558.99 L399.57,560.51 L400.85,562.16 L402.03,563.92 L403.12,565.8 L404.12,567.78 L405.01,569.87 L405.81,572.07 L406.5,574.36 L407.09,576.74 L407.57,579.21 L407.94,581.77 L408.21,584.4 L408.38,587.11 L408.43,589.88 L408.38,592.72 L408.21,595.61 L407.94,598.55 L407.57,601.54 L407.09,604.57 L406.5,607.63 L405.81,610.72 L405.01,613.83 L404.12,616.96 L403.12,620.09 L402.03,623.23 L400.85,626.36 L399.57,629.48 L398.2,632.59 L396.74,635.68 L395.19,638.74 L393.57,641.76 L391.87,644.74 L390.09,647.68 L388.24,650.57 L386.32,653.4 L384.34,656.17 L382.29,658.86 L380.2,661.49 L378,664.16 L375.81,666.82 L373.62,669.49 L371.43,672.16 L369.23,674.83 L367.04,677.49 L364.85,680.16 L362.65,682.83 L360.46,685.49 L358.27,688.16 L356.08,690.83 L353.88,693.5 L351.69,696.16 L350.91,697.12" fill="none" stroke="#fff" stroke-width="15.96" stroke-linejoin="round"/>
<path d="M409.04,564.69 L410.5,566.09 L411.87,567.62 L413.15,569.26 L414.34,571.03 L415.43,572.9 L416.43,574.89 L417.32,576.98 L418.12,579.17 L418.81,581.46 L419.39,583.85 L419.88,586.32 L420.25,588.87 L420.52,591.51 L420.68,594.21 L420.74,596.99 L420.68,599.82 L420.52,602.72 L420.25,605.66 L419.88,608.65 L419.39,611.68 L418.81,614.74 L418.12,617.83 L417.32,620.94 L416.43,624.06 L415.43,627.2 L414.34,630.33 L413.15,633.47 L411.87,636.59 L410.5,639.7 L409.04,642.78 L407.5,645.84 L405.88,648.87 L404.17,651.85 L402.4,654.79 L400.55,657.68 L398.63,660.51 L396.65,663.27 L394.6,665.97 L392.5,668.6 L390.31,671.26 L388.12,673.93 L385.93,676.6 L383.73,679.26 L381.54,681.93 L379.35,684.6 L377.16,687.27 L374.96,689.93 L372.77,692.6 L370.58,695.27 L368.39,697.93 L366.19,700.6 L364,703.27 L363.72,703.6" fill="none" stroke="#111" stroke-width="18.66" stroke-linejoin="round"/>
<path d="M408.47,564.14 L410.5,566.09 L411.87,567.62 L413.15,569.26 L414.34,571.03 L415.43,572.9 L416.43,574.89 L417.32,576.98 L418.12,579.17 L418.81,581.46 L419.39,583.85 L419.88,586.32 L420.25,588.87 L420.52,591.51 L420.68,594.21 L420.74,596.99 L420.68,599.82 L420.52,602.72 L420.25,605.66 L419.88,608.65 L419.39,611.68 L418.81,614.74 L418.12,617.83 L417.32,620.94 L416.43,624.06 L415.43,627.2 L414.34,630.33 L413.15,633.47 L411.87,636.59 L410.5,639.7 L409.04,642.78 L407.5,645.84 L405.88,648.87 L404.17,651.85 L402.4,654.79 L400.55,657.68 L398.63,660.51 L396.65,663.27 L394.6,665.97 L392.5,668.6 L390.31,671.26 L388.12,673.93 L385.93,676.6 L383.73,679.26 L381.54,681.93 L379.35,684.6 L377.16,687.27 L374.96,689.93 L372.77,692.6 L370.58,695.27 L368.39,697.93 L366.19,700.6 L364,703.27 L363.22,704.22" fill="none" stroke="#fff" stroke-width="16.16" stroke-linejoin="round"/>
<path d="M376.03,563.31 L376.31,563.33 L378.5,563.46 L380.69,563.6 L382.89,563.73 L385.08,563.87 L387.27,564 L389.46,564.14 L391.66,564.27 L393.85,564.41 L396.04,564.54 L398.23,564.68 L400.43,564.82 L402.62,564.95 L404.81,565.09 L406.91,565.29 L408.95,565.63 L410.94,566.1 L412.85,566.72 L414.7,567.47 L416.48,568.35 L418.19,569.37 L419.81,570.52 L421.35,571.8 L422.81,573.2 L424.18,574.73 L425.46,576.37 L426.65,578.13 L427.74,580.01 L428.73,582 L429.63,584.09 L430.42,586.28 L431.12,588.57 L431.7,590.95 L432.18,593.43 L432.56,595.98 L432.83,598.61 L432.99,601.32 L433.05,604.09 L432.99,606.93 L432.83,609.82 L432.56,612.77 L432.18,615.75 L431.7,618.78 L431.12,621.84 L430.42,624.93 L429.63,628.04 L428.73,631.17 L427.74,634.3 L426.65,637.44 L425.46,640.57 L424.18,643.7 L422.81,646.8 L421.35,649.89 L419.81,652.95 L418.19,655.97 L416.48,658.96 L414.7,661.89 L412.85,664.78 L410.94,667.61 L408.95,670.38 L406.91,673.08 L404.81,675.7 L402.62,678.37 L400.43,681.04 L398.23,683.7 L396.04,686.37 L393.85,689.04 L391.66,691.7 L389.46,694.37 L387.27,697.04 L385.08,699.71 L382.89,702.37 L380.69,705.04 L378.5,707.71 L376.31,710.37 L376.03,710.71" fill="none" stroke="#111" stroke-width="18.86" stroke-linejoin="round"/>
<path d="M375.23,563.26 L376.31,563.33 L378.5,563.46 L380.69,563.6 L382.89,563.73 L385.08,563.87 L387.27,564 L389.46,564.14 L391.66,564.27 L393.85,564.41 L396.04,564.54 L398.23,564.68 L400.43,564.82 L402.62,564.95 L404.81,565.09 L406.91,565.29 L408.95,565.63 L410.94,566.1 L412.85,566.72 L414.7,567.47 L416.48,568.35 L418.19,569.37 L419.81,570.52 L421.35,571.8 L422.81,573.2 L424.18,574.73 L425.46,576.37 L426.65,578.13 L427.74,580.01 L428.73,582 L429.63,584.09 L430.42,586.28 L431.12,588.57 L431.7,590.95 L432.18,593.43 L432.56,595.98 L432.83,598.61 L432.99,601.32 L433.05,604.09 L432.99,606.93 L432.83,609.82 L432.56,612.77 L432.18,615.75 L431.7,618.78 L431.12,621.84 L430.42,624.93 L429.63,628.04 L428.73,631.17 L427.74,634.3 L426.65,637.44 L425.46,640.57 L424.18,643.7 L422.81,646.8 L421.35,649.89 L419.81,652.95 L418.19,655.97 L416.48,658.96 L414.7,661.89 L412.85,664.78 L410.94,667.61 L408.95,670.38 L406.91,673.08 L404.81,675.7 L402.62,678.37 L400.43,681.04 L398.23,683.7 L396.04,686.37 L393.85,689.04 L391.66,691.7 L389.46,694.37 L387.27,697.04 L385.08,699.71 L382.89,702.37 L380.69,705.04 L378.5,707.71 L376.31,710.37 L375.52,711.33" fill="none" stroke="#fff" stroke-width="15.96" stroke-linejoin="round"/>
<path d="M247.2,543.9 L296.2,572.2 L314.5,543.5 L300,520 L262,516Z" fill="#fff" stroke="#111" stroke-width="1.6" stroke-linejoin="round" stroke-linecap="round" />
<path d="M293.19,634.86 L291,637.52 L288.81,640.19 L286.61,642.86 L284.42,645.52 L282.23,648.19 L280.04,650.86 L277.84,653.53 L277.57,653.86" fill="none" stroke="#111" stroke-width="18.86" stroke-linejoin="round"/>
<path d="M293.7,634.24 L291,637.52 L288.81,640.19 L286.61,642.86 L284.42,645.52 L282.23,648.19 L280.04,650.86 L277.84,653.53 L277.06,654.48" fill="none" stroke="#fff" stroke-width="15.96" stroke-linejoin="round"/>
<ellipse cx="277.57" cy="653.86" rx="9.37" ry="5.32" transform="rotate(-113.63 277.57 653.86)" fill="#fff" stroke="#111" stroke-width="2"/>
<path d="M226,609 L227,620 L247,623.5 Q252.8,625.5 251.6,630 L249,634.5 L236,633 Z" fill="#fff" stroke="#111" stroke-width="1" stroke-linejoin="round" stroke-linecap="round" />
<path d="M255.9,510.4 L244.4,523.5 L235.4,536.5 L228.2,550 L221.9,568 L217.9,586 L217,600 L218.6,615 L223.4,628 L230.7,639 L239.4,646 L249.4,650 L270,651.8 L276.9,642.5 L271.7,639 L249.7,637.5 L239.7,635.5 L232.7,630 L228.5,621 L224.7,606 L224.9,586.2 L228.7,567 L238.2,545.3 L247.7,530 L259.7,514Z" fill="#fff" stroke="#111" stroke-width="1.1" stroke-linejoin="round" stroke-linecap="round" />
<path d="M255.9,510.4 L244.4,523.5 L235.4,536.5 L228.2,550 L221.9,568 L217.9,586 L217,600 L218.6,615 L223.4,628 L230.7,639 L239.4,646 L249.4,650 L270,651.8" fill="none" stroke="#111" stroke-width="1.3" stroke-linejoin="round" stroke-linecap="round" />
<path d="M258.2,511 L246.7,524.1 L237.7,537.1 L230.5,550.6 L224.2,568.6 L220.2,586.6 L219.3,600.6 L220.9,615.6 L225.7,628.6 L233,639.6" fill="none" stroke="#111" stroke-width="0.9" stroke-linejoin="round" stroke-linecap="round" />
<path d="M272.4,652.6 L256,671.6 L264,678.2 L279.4,659 Z" fill="#fff" stroke="#111" stroke-width="1.2" stroke-linejoin="round" stroke-linecap="round" />
<path d="M259,499.6 L277.5,499.8 Q282.6,501.5 283.2,508 Q283.8,514.4 280,515.2 Q275.5,515.6 272.6,512.8 L258.6,513.3 Q254.4,511.5 254.6,506.5 Q255,501 259,499.6 Z" fill="#fff" stroke="#111" stroke-width="1.6" stroke-linejoin="round" stroke-linecap="round" />
<path d="M268.6,508.6 Q271.8,508.8 273.4,513.4" fill="none" stroke="#111" stroke-width="1.3" stroke-linejoin="round" stroke-linecap="round" />
<path d="M305.5,641.96 L303.31,644.63 L301.12,647.3 L298.92,649.96 L296.73,652.63 L294.54,655.3 L292.34,657.97 L290.15,660.63 L289.88,660.97" fill="none" stroke="#111" stroke-width="18.66" stroke-linejoin="round"/>
<path d="M306.01,641.34 L303.31,644.63 L301.12,647.3 L298.92,649.96 L296.73,652.63 L294.54,655.3 L292.34,657.97 L290.15,660.63 L289.37,661.59" fill="none" stroke="#fff" stroke-width="16.16" stroke-linejoin="round"/>
<ellipse cx="311.68" cy="489.95" rx="8.7" ry="1.96" transform="rotate(-140.58 311.68 489.95)" fill="#fff" stroke="#111" stroke-width="1.5"/>
<path d="M289.88,516.46 L291.94,513.95 L294.14,511.28 L296.33,508.62 L298.52,505.95 L300.71,503.28 L302.91,500.61 L305.1,497.95 L307.29,495.28 L309.48,492.61 L311.68,489.95" fill="none" stroke="#111" stroke-width="18.91" stroke-linejoin="round"/>
<path d="M289.37,517.08 L291.94,513.95 L294.14,511.28 L296.33,508.62 L298.52,505.95 L300.71,503.28 L302.91,500.61 L305.1,497.95 L307.29,495.28 L309.48,492.61 L312.18,489.33" fill="none" stroke="#fff" stroke-width="15.91" stroke-linejoin="round"/>
<ellipse cx="289.88" cy="516.46" rx="9.39" ry="5.32" transform="rotate(-113.52 289.88 516.46)" fill="#fff" stroke="#111" stroke-width="2"/>
<ellipse cx="295.83" cy="658.44" rx="8.7" ry="6.83" transform="rotate(93.53 295.83 658.44)" fill="#fff" stroke="#111" stroke-width="1.5"/>
<path d="M289.88,658.07 L295.83,658.44" fill="none" stroke="#111" stroke-width="18.91" stroke-linejoin="round"/>
<path d="M289.08,658.02 L296.63,658.49" fill="none" stroke="#fff" stroke-width="15.91" stroke-linejoin="round"/>
<ellipse cx="289.88" cy="658.07" rx="9.39" ry="5.32" transform="rotate(-113.52 289.88 658.07)" fill="#fff" stroke="#111" stroke-width="2"/>
<path d="M317.81,649.07 L315.62,651.74 L313.42,654.4 L311.23,657.07 L309.04,659.74 L306.85,662.4 L304.65,665.07 L302.46,667.74 L302.19,668.07" fill="none" stroke="#111" stroke-width="18.86" stroke-linejoin="round"/>
<path d="M318.32,648.45 L315.62,651.74 L313.42,654.4 L311.23,657.07 L309.04,659.74 L306.85,662.4 L304.65,665.07 L302.46,667.74 L301.68,668.69" fill="none" stroke="#fff" stroke-width="15.96" stroke-linejoin="round"/>
<ellipse cx="302.19" cy="520.67" rx="9.37" ry="5.32" transform="rotate(-113.63 302.19 520.67)" fill="#fff" stroke="#111" stroke-width="2"/>
<ellipse cx="302.19" cy="668.07" rx="9.37" ry="5.32" transform="rotate(-113.63 302.19 668.07)" fill="#fff" stroke="#111" stroke-width="2"/>
<path d="M330.12,656.17 L327.92,658.84 L325.73,661.51 L323.54,664.18 L321.35,666.84 L319.15,669.51 L316.96,672.18 L314.77,674.84 L314.49,675.18" fill="none" stroke="#111" stroke-width="18.66" stroke-linejoin="round"/>
<path d="M330.62,655.56 L327.92,658.84 L325.73,661.51 L323.54,664.18 L321.35,666.84 L319.15,669.51 L316.96,672.18 L314.77,674.84 L313.98,675.8" fill="none" stroke="#fff" stroke-width="16.16" stroke-linejoin="round"/>
<ellipse cx="336.29" cy="504.16" rx="8.7" ry="1.96" transform="rotate(-140.58 336.29 504.16)" fill="#fff" stroke="#111" stroke-width="1.5"/>
<path d="M314.49,530.68 L316.56,528.16 L318.75,525.5 L320.94,522.83 L323.14,520.16 L325.33,517.49 L327.52,514.83 L329.72,512.16 L331.91,509.49 L334.1,506.83 L336.29,504.16" fill="none" stroke="#111" stroke-width="18.91" stroke-linejoin="round"/>
<path d="M313.98,531.29 L316.56,528.16 L318.75,525.5 L320.94,522.83 L323.14,520.16 L325.33,517.49 L327.52,514.83 L329.72,512.16 L331.91,509.49 L334.1,506.83 L336.8,503.54" fill="none" stroke="#fff" stroke-width="15.91" stroke-linejoin="round"/>
<ellipse cx="314.49" cy="530.68" rx="9.39" ry="5.32" transform="rotate(-113.52 314.49 530.68)" fill="#fff" stroke="#111" stroke-width="2"/>
<ellipse cx="320.44" cy="672.65" rx="8.7" ry="6.83" transform="rotate(93.53 320.44 672.65)" fill="#fff" stroke="#111" stroke-width="1.5"/>
<path d="M314.49,672.28 L320.44,672.65" fill="none" stroke="#111" stroke-width="18.91" stroke-linejoin="round"/>
<path d="M313.69,672.23 L321.24,672.7" fill="none" stroke="#fff" stroke-width="15.91" stroke-linejoin="round"/>
<ellipse cx="314.49" cy="672.28" rx="9.39" ry="5.32" transform="rotate(-113.52 314.49 672.28)" fill="#fff" stroke="#111" stroke-width="2"/>
<path d="M342.42,663.28 L340.23,665.95 L338.04,668.61 L335.85,671.28 L333.65,673.95 L331.46,676.62 L329.27,679.28 L327.08,681.95 L326.8,682.29" fill="none" stroke="#111" stroke-width="18.86" stroke-linejoin="round"/>
<path d="M342.93,662.66 L340.23,665.95 L338.04,668.61 L335.85,671.28 L333.65,673.95 L331.46,676.62 L329.27,679.28 L327.08,681.95 L326.29,682.9" fill="none" stroke="#fff" stroke-width="15.96" stroke-linejoin="round"/>
<ellipse cx="326.8" cy="534.88" rx="9.37" ry="5.32" transform="rotate(-113.63 326.8 534.88)" fill="#fff" stroke="#111" stroke-width="2"/>
<ellipse cx="326.8" cy="682.29" rx="9.37" ry="5.32" transform="rotate(-113.63 326.8 682.29)" fill="#fff" stroke="#111" stroke-width="2"/>
<path d="M354.73,670.39 L352.54,673.05 L350.35,675.72 L348.15,678.39 L345.96,681.05 L343.77,683.72 L341.58,686.39 L339.38,689.06 L339.11,689.39" fill="none" stroke="#111" stroke-width="18.66" stroke-linejoin="round"/>
<path d="M355.24,669.77 L352.54,673.05 L350.35,675.72 L348.15,678.39 L345.96,681.05 L343.77,683.72 L341.58,686.39 L339.38,689.06 L338.6,690.01" fill="none" stroke="#fff" stroke-width="16.16" stroke-linejoin="round"/>
<ellipse cx="360.91" cy="518.37" rx="8.7" ry="1.96" transform="rotate(-140.58 360.91 518.37)" fill="#fff" stroke="#111" stroke-width="1.5"/>
<path d="M339.11,544.89 L341.18,542.37 L343.37,539.71 L345.56,537.04 L347.75,534.37 L349.95,531.71 L352.14,529.04 L354.33,526.37 L356.52,523.7 L358.72,521.04 L360.91,518.37" fill="none" stroke="#111" stroke-width="18.91" stroke-linejoin="round"/>
<path d="M338.6,545.51 L341.18,542.37 L343.37,539.71 L345.56,537.04 L347.75,534.37 L349.95,531.71 L352.14,529.04 L354.33,526.37 L356.52,523.7 L358.72,521.04 L361.42,517.75" fill="none" stroke="#fff" stroke-width="15.91" stroke-linejoin="round"/>
<ellipse cx="339.11" cy="544.89" rx="9.39" ry="5.32" transform="rotate(-113.52 339.11 544.89)" fill="#fff" stroke="#111" stroke-width="2"/>
<ellipse cx="345.06" cy="686.86" rx="8.7" ry="6.83" transform="rotate(93.53 345.06 686.86)" fill="#fff" stroke="#111" stroke-width="1.5"/>
<path d="M339.11,686.49 L345.06,686.86" fill="none" stroke="#111" stroke-width="18.91" stroke-linejoin="round"/>
<path d="M338.31,686.44 L345.86,686.91" fill="none" stroke="#fff" stroke-width="15.91" stroke-linejoin="round"/>
<ellipse cx="339.11" cy="686.49" rx="9.39" ry="5.32" transform="rotate(-113.52 339.11 686.49)" fill="#fff" stroke="#111" stroke-width="2"/>
<path d="M367.04,677.49 L364.85,680.16 L362.65,682.83 L360.46,685.49 L358.27,688.16 L356.08,690.83 L353.88,693.5 L351.69,696.16 L351.42,696.5" fill="none" stroke="#111" stroke-width="18.86" stroke-linejoin="round"/>
<path d="M367.55,676.87 L364.85,680.16 L362.65,682.83 L360.46,685.49 L358.27,688.16 L356.08,690.83 L353.88,693.5 L351.69,696.16 L350.91,697.12" fill="none" stroke="#fff" stroke-width="15.96" stroke-linejoin="round"/>
<ellipse cx="351.42" cy="549.1" rx="9.37" ry="5.32" transform="rotate(-113.63 351.42 549.1)" fill="#fff" stroke="#111" stroke-width="2"/>
<ellipse cx="351.42" cy="696.5" rx="9.37" ry="5.32" transform="rotate(-113.63 351.42 696.5)" fill="#fff" stroke="#111" stroke-width="2"/>
<path d="M379.35,684.6 L377.16,687.27 L374.96,689.93 L372.77,692.6 L370.58,695.27 L368.39,697.93 L366.19,700.6 L364,703.27 L363.72,703.6" fill="none" stroke="#111" stroke-width="18.66" stroke-linejoin="round"/>
<path d="M379.86,683.98 L377.16,687.27 L374.96,689.93 L372.77,692.6 L370.58,695.27 L368.39,697.93 L366.19,700.6 L364,703.27 L363.22,704.22" fill="none" stroke="#fff" stroke-width="16.16" stroke-linejoin="round"/>
<ellipse cx="385.52" cy="532.58" rx="8.7" ry="1.96" transform="rotate(-140.58 385.52 532.58)" fill="#fff" stroke="#111" stroke-width="1.5"/>
<path d="M363.72,559.1 L365.79,556.59 L367.98,553.92 L370.18,551.25 L372.37,548.59 L374.56,545.92 L376.75,543.25 L378.95,540.58 L381.14,537.92 L383.33,535.25 L385.52,532.58" fill="none" stroke="#111" stroke-width="18.91" stroke-linejoin="round"/>
<path d="M363.22,559.72 L365.79,556.59 L367.98,553.92 L370.18,551.25 L372.37,548.59 L374.56,545.92 L376.75,543.25 L378.95,540.58 L381.14,537.92 L383.33,535.25 L386.03,531.96" fill="none" stroke="#fff" stroke-width="15.91" stroke-linejoin="round"/>
<ellipse cx="363.72" cy="559.1" rx="9.39" ry="5.32" transform="rotate(-113.52 363.72 559.1)" fill="#fff" stroke="#111" stroke-width="2"/>
<ellipse cx="369.68" cy="701.07" rx="8.7" ry="6.83" transform="rotate(93.53 369.68 701.07)" fill="#fff" stroke="#111" stroke-width="1.5"/>
<path d="M363.72,700.71 L369.68,701.07" fill="none" stroke="#111" stroke-width="18.91" stroke-linejoin="round"/>
<path d="M362.93,700.66 L370.47,701.12" fill="none" stroke="#fff" stroke-width="15.91" stroke-linejoin="round"/>
<ellipse cx="363.72" cy="700.71" rx="9.39" ry="5.32" transform="rotate(-113.52 363.72 700.71)" fill="#fff" stroke="#111" stroke-width="2"/>
<path d="M391.66,691.7 L389.46,694.37 L387.27,697.04 L385.08,699.71 L382.89,702.37 L380.69,705.04 L378.5,707.71 L376.31,710.37 L376.03,710.71" fill="none" stroke="#111" stroke-width="18.86" stroke-linejoin="round"/>
<path d="M392.16,691.09 L389.46,694.37 L387.27,697.04 L385.08,699.71 L382.89,702.37 L380.69,705.04 L378.5,707.71 L376.31,710.37 L375.52,711.33" fill="none" stroke="#fff" stroke-width="15.96" stroke-linejoin="round"/>
<ellipse cx="376.03" cy="563.31" rx="9.37" ry="5.32" transform="rotate(-113.63 376.03 563.31)" fill="#fff" stroke="#111" stroke-width="2"/>
<ellipse cx="376.03" cy="710.71" rx="9.37" ry="5.32" transform="rotate(-113.63 376.03 710.71)" fill="#fff" stroke="#111" stroke-width="2"/>
<line x1="312.3" y1="541.8" x2="318.5" y2="540.5" stroke="#111" stroke-width="1.3" stroke-linecap="butt"/>
<ellipse cx="312.3" cy="541.8" rx="2.0" ry="2.4" fill="#111"/>
<line x1="362" y1="570" x2="369.4" y2="568.4" stroke="#111" stroke-width="1.3" stroke-linecap="butt"/>
<ellipse cx="362" cy="570" rx="2.0" ry="2.4" fill="#111"/>
<path d="M383.81,562.12 L415.04,564.57 L417.74,564.9 L420.36,565.44 L422.87,566.2 L425.27,567.18 L427.56,568.36 L429.73,569.76 L431.78,571.35 L433.69,573.15 L435.46,575.14 L437.09,577.32 L438.58,579.69 L439.91,582.22 L441.08,584.93 L442.1,587.8 L442.95,590.81 L443.64,593.98 L444.16,597.27 L444.51,600.69 L444.7,604.22 L444.71,607.86 L444.56,611.59 L444.23,615.41 L443.74,619.29 L443.07,623.24 L442.25,627.24 L441.26,631.27 L440.11,635.33 L438.8,639.4 L437.34,643.48 L435.74,647.54 L433.99,651.59 L432.1,655.6 L430.07,659.57 L427.92,663.48 L425.65,667.32 L423.26,671.09 L420.77,674.76 L418.17,678.34 L415.49,681.8 L412.71,685.15 L383.81,718.85 L391.3,718.85 L391.3,625.5 L383.81,620.5Z" fill="#fff" stroke="none"/>
<path d="M383.81,620.5 L383.81,562.12 L415.04,564.57 L417.74,564.9 L420.36,565.44 L422.87,566.2 L425.27,567.18 L427.56,568.36 L429.73,569.76 L431.78,571.35 L433.69,573.15 L435.46,575.14 L437.09,577.32 L438.58,579.69 L439.91,582.22 L441.08,584.93 L442.1,587.8 L442.95,590.81 L443.64,593.98 L444.16,597.27 L444.51,600.69 L444.7,604.22 L444.71,607.86 L444.56,611.59 L444.23,615.41 L443.74,619.29 L443.07,623.24 L442.25,627.24 L441.26,631.27 L440.11,635.33 L438.8,639.4 L437.34,643.48 L435.74,647.54 L433.99,651.59 L432.1,655.6 L430.07,659.57 L427.92,663.48 L425.65,667.32 L423.26,671.09 L420.77,674.76 L418.17,678.34 L415.49,681.8 L412.71,685.15 L383.81,718.85" fill="none" stroke="#111" stroke-width="1.6" stroke-linejoin="round" stroke-linecap="round" />
<path d="M386.4,632.8 L389.7,634.6 L389.7,661 L386.4,659.2 Z" fill="#fff" stroke="#111" stroke-width="0.9" stroke-linejoin="round" stroke-linecap="round" />
<clipPath id="cpl"><rect x="125.18" y="150" width="120" height="240"/></clipPath>
<g transform="matrix(0.7 -0.41 0 0.81 296.02 475.46)" clip-path="url(#cpl)">
<text x="0" y="0" transform="translate(98.5 225) rotate(-12) skewX(-10)" font-family="Liberation Serif, serif" font-weight="bold" font-style="italic" font-size="13.5" fill="#111" stroke="#111" stroke-width="4" textLength="54" lengthAdjust="spacingAndGlyphs">Везувий</text>
</g>
<path d="M383.81,620.56 L384.43,620.21 L385.06,619.88 L385.68,619.56 L386.31,619.26 L386.93,618.97 L387.55,618.7 L388.17,618.44 L388.79,618.2 L389.4,617.97 L390.02,617.76 L390.63,617.56 L391.24,617.37 L391.84,617.21 L392.45,617.05 L393.05,616.92 L393.64,616.79 L394.23,616.69 L394.82,616.6 L395.4,616.52 L395.98,616.46 L396.56,616.42 L397.13,616.39 L397.69,616.37 L398.25,616.38 L398.8,616.39 L399.35,616.43 L399.89,616.48 L400.43,616.54 L400.96,616.62 L401.48,616.72 L402,616.83 L402.5,616.96 L403.01,617.1 L403.5,617.25 L403.99,617.43 L404.47,617.62 L404.94,617.82 L405.4,618.04 L405.86,618.27 L406.3,618.52 L414.24,623.1 L413.79,622.85 L413.34,622.62 L412.87,622.4 L412.4,622.2 L411.92,622.01 L411.44,621.84 L410.94,621.68 L410.44,621.54 L409.93,621.41 L409.42,621.3 L408.89,621.2 L408.36,621.12 L407.83,621.06 L407.29,621.01 L406.74,620.98 L406.19,620.96 L405.63,620.95 L405.06,620.97 L404.49,621 L403.92,621.04 L403.34,621.1 L402.76,621.18 L402.17,621.27 L401.58,621.37 L400.98,621.5 L400.38,621.63 L399.78,621.79 L399.17,621.96 L398.56,622.14 L397.95,622.34 L397.34,622.55 L396.72,622.78 L396.11,623.02 L395.49,623.28 L394.86,623.55 L394.24,623.84 L393.62,624.14 L392.99,624.46 L392.37,624.79 L391.74,625.14Z" fill="#fff" stroke="#111" stroke-width="1.1" stroke-linejoin="round" stroke-linecap="round" />
<path d="M391.74,625.14 L393.42,624.24 L395.1,623.45 L396.76,622.76 L398.41,622.19 L400.05,621.72 L401.65,621.36 L403.23,621.11 L404.78,620.98 L406.29,620.96 L407.76,621.05 L409.19,621.26 L410.57,621.57 L411.9,622 L413.17,622.54 L414.38,623.18 L415.53,623.94 L416.62,624.79 L417.64,625.75 L418.58,626.81 L419.45,627.97 L420.25,629.22 L420.97,630.56 L421.61,631.99 L422.17,633.5 L422.64,635.09 L423.03,636.76 L423.33,638.49 L423.55,640.29 L423.68,642.15 L423.73,644.07 L423.68,646.04 L423.55,648.05 L423.33,650.1 L423.03,652.19 L422.64,654.3 L422.17,656.44 L421.61,658.59 L420.97,660.76 L420.25,662.93 L419.45,665.1 L418.58,667.26 L417.64,669.42 L416.62,671.55 L415.53,673.66 L414.38,675.74 L413.17,677.79 L411.9,679.8 L410.57,681.76 L409.19,683.66 L407.76,685.52 L406.29,687.31 L404.78,689.03 L403.23,690.69 L401.65,692.26 L400.05,693.76 L398.41,695.18 L396.76,696.51 L395.1,697.74 L393.42,698.89 L391.74,699.93Z" fill="#fff" stroke="#111" stroke-width="1.2" stroke-linejoin="round" stroke-linecap="round" />
<path d="M405.55,623.68 L406.82,623.78 L408.05,623.96 L409.24,624.23 L410.4,624.59 L411.5,625.04 L412.56,625.57 L413.57,626.19 L414.54,626.9 L415.44,627.68 L416.29,628.55 L417.09,629.5 L417.82,630.52 L418.5,631.62 L419.11,632.79 L419.66,634.03 L420.14,635.33 L420.55,636.7 L420.9,638.13 L421.18,639.61 L421.4,641.15 L421.54,642.74 L421.61,644.37 L421.61,646.05 L421.55,647.77 L421.41,649.52 L421.21,651.3 L420.93,653.1 L420.59,654.93 L420.18,656.78 L419.7,658.64 L419.16,660.51 L418.56,662.38 L417.89,664.26 L417.16,666.13 L416.37,668 L415.52,669.85 L414.62,671.69 L413.66,673.5 L412.66,675.29 L411.6,677.06" fill="none" stroke="#111" stroke-width="0.9" stroke-linejoin="round" stroke-linecap="round" />
<line x1="406.3" y1="618.52" x2="414.24" y2="623.1" stroke="#111" stroke-width="1" stroke-linecap="butt"/>
<path d="M414.3,621.2 L418.5,619.4" fill="none" stroke="#111" stroke-width="1" stroke-linejoin="round" stroke-linecap="round" />
<ellipse cx="421.6" cy="621.2" rx="3.6" ry="2.2" transform="rotate(-20 421.6 621.2)" fill="#fff" stroke="#111" stroke-width="1.3"/>
<ellipse cx="423" cy="620.4" rx="1.8" ry="1.1" fill="#111"/>
<path d="M383,695 L383,707 L402.5,711.6 Q409,708 411.8,701.5 Q413,697 411.9,694 L404,697.2 L397,694.8 Z" fill="#fff" stroke="#111" stroke-width="1.2" stroke-linejoin="round" stroke-linecap="round" />
<path d="M383,695 L397,685 L397,694.5 L390.5,699.5 Z" fill="#fff" stroke="#111" stroke-width="1.1" stroke-linejoin="round" stroke-linecap="round" />
<path d="M386,695.4 L390.5,692 L390.5,698.6 Z" fill="#111" stroke="#111" stroke-width="0.6" stroke-linejoin="round" stroke-linecap="round" />
<path d="M391.8,691.4 L396,688.4 L396,694.2 Z" fill="#111" stroke="#111" stroke-width="0.6" stroke-linejoin="round" stroke-linecap="round" />
<path d="M396.9,672 L401.5,672.2 Q408.5,676.5 412.4,682.6 Q413,690 407.3,695.4 L403.6,697.2 L396.9,694 Z" fill="#fff" stroke="#111" stroke-width="1.3" stroke-linejoin="round" stroke-linecap="round" />
<path d="M398.7,676 L398.7,693.6" fill="none" stroke="#111" stroke-width="1" stroke-linejoin="round" stroke-linecap="round" />
<path d="M399.8,677 Q406,679.5 405.6,684 Q404.8,689.5 399.8,693" fill="none" stroke="#111" stroke-width="1" stroke-linejoin="round" stroke-linecap="round" />
<path d="M392.3,669 L399.2,666.4 L404.8,667.6 L401.3,670.7 L396.6,672.4 Z" fill="#fff" stroke="#111" stroke-width="1.1" stroke-linejoin="round" stroke-linecap="round" />
<path d="M390,667.2 L392.3,669" fill="none" stroke="#111" stroke-width="1" stroke-linejoin="round" stroke-linecap="round" />
</g>
</svg>
<div class="toolbar"><i style="left:31px"></i><i style="left:62px"></i></div>
</body>
</html>
